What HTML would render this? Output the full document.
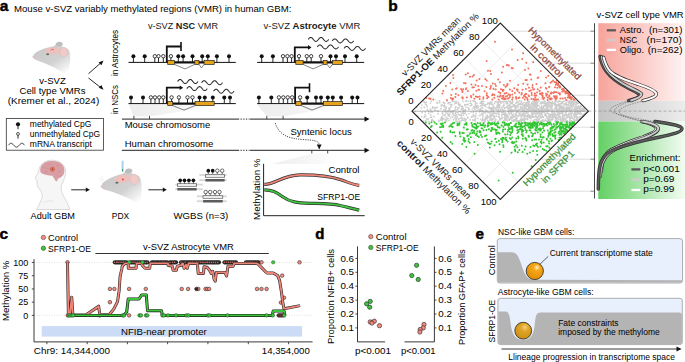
<!DOCTYPE html><html><head><meta charset="utf-8"><style>html,body{margin:0;padding:0;background:#fff;}svg{display:block;}text{font-family:"Liberation Sans",sans-serif;}</style></head><body>
<svg width="685" height="362" viewBox="0 0 685 362">
<defs>
<linearGradient id="gRed" x1="0" x2="1" y1="0" y2="0"><stop offset="0" stop-color="#f7a39b"/><stop offset="1" stop-color="#fff4f3"/></linearGradient>
<linearGradient id="gGray" x1="0" x2="1" y1="0" y2="0"><stop offset="0" stop-color="#c4c4c4"/><stop offset="1" stop-color="#ececec"/></linearGradient>
<linearGradient id="gGreen" x1="0" x2="1" y1="0" y2="0"><stop offset="0" stop-color="#63d063"/><stop offset="1" stop-color="#f3fcf3"/></linearGradient>
<linearGradient id="gZoom" x1="0" x2="1" y1="0" y2="0"><stop offset="0" stop-color="#ebebeb"/><stop offset="0.5" stop-color="#f3f3f3"/><stop offset="1" stop-color="#fefefe"/></linearGradient>
<linearGradient id="gZoomH" x1="0" x2="1" y1="0" y2="0"><stop offset="0" stop-color="#d0d0d0"/><stop offset="1" stop-color="#f8f8f8" stop-opacity="0.3"/></linearGradient>
<radialGradient id="gBall1" cx="0.62" cy="0.3" r="0.75"><stop offset="0" stop-color="#fff2c0"/><stop offset="0.25" stop-color="#f7a81a"/><stop offset="1" stop-color="#e08a00"/></radialGradient>
<radialGradient id="gBall2" cx="0.6" cy="0.3" r="0.75"><stop offset="0" stop-color="#f5d27a"/><stop offset="0.3" stop-color="#e0a62a"/><stop offset="1" stop-color="#c88c10"/></radialGradient>
<radialGradient id="gMouse" cx="0.45" cy="0.35" r="0.7"><stop offset="0" stop-color="#c9c9c9"/><stop offset="0.7" stop-color="#d6d6d6"/><stop offset="1" stop-color="#fff" stop-opacity="0"/></radialGradient>
<linearGradient id="gMouseL" x1="0.2" y1="0.1" x2="0.85" y2="1"><stop offset="0" stop-color="#c8c8c8"/><stop offset="0.55" stop-color="#d2d2d2"/><stop offset="1" stop-color="#ffffff"/></linearGradient>
<g id="mouseHead">
<path d="M0,0 C0.5,-2 2,-3.7 4,-4.7 C8,-7 13,-8.7 18,-9.7 C20.5,-10.3 22,-10.7 22.5,-11.5 C22.5,-13 24,-14.5 26,-14.7 C28.5,-14.9 30,-13.7 29.8,-12.3 C29.6,-11.2 29,-10.5 28.5,-10 C32,-9.5 35,-8 36,-6 C37.5,-3 37.5,1.5 37,6.5 C36.5,11.5 35,15.5 33,18.5 C29,15.5 24,12.5 19,10 C13,7 7,5 3,3.5 C1,2.7 -0.2,1.5 0,0 Z" fill="url(#gMouseL)"/>
<path d="M22.8,-11.6 C23,-13.2 24.5,-14.3 26,-14.4 C28,-14.5 29.4,-13.5 29.3,-12.3 C29.1,-11.2 28,-10.4 26.5,-10.2 C25,-10 23.3,-10.5 22.8,-11.6 Z" fill="#bdbdbd"/>
<path d="M12.5,-6 C14,-8.5 19,-9.5 23,-9.2 C26,-9 27.5,-7.5 27.3,-5.5 C27,-3.5 24,-2.2 20,-2 C16.5,-1.9 13.5,-3 12.5,-4.5 Z" fill="#ecc0bd"/>
<ellipse cx="30.8" cy="-4.2" rx="3.9" ry="4.7" fill="#efcac7" stroke="#e2b2ae" stroke-width="0.4"/>
<ellipse cx="14.7" cy="-2.3" rx="1.5" ry="1" fill="#6a6a6a"/>
<circle cx="0.4" cy="0.3" r="1" fill="#f0b8b8"/>
</g>
</defs>
<text x="-0.30" y="10.80" font-size="15.5" font-weight="bold" fill="#000" stroke="#000" stroke-width="0.45">a</text>
<text x="14.00" y="11.60" font-size="9.0" textLength="277.40" lengthAdjust="spacingAndGlyphs" >Mouse v-SVZ variably methylated regions (VMR) in human GBM:</text>
<text x="147.9" y="29" font-size="8.6" fill="#1a1a1a" textLength="70.1" lengthAdjust="spacingAndGlyphs">v-SVZ <tspan font-weight="bold">NSC</tspan> VMR</text>
<text x="263.5" y="29" font-size="8.6" fill="#1a1a1a" textLength="96.9" lengthAdjust="spacingAndGlyphs">v-SVZ <tspan font-weight="bold">Astrocyte</tspan> VMR</text>
<use href="#mouseHead" transform="translate(33,56.5)"/>
<path d="M50.5,50.2 q1.5,-1.6 3.5,-0.4" stroke="#e0685c" stroke-width="0.9" fill="none"/>
<text x="52.50" y="84.20" font-size="8.6" text-anchor="middle" textLength="26.50" lengthAdjust="spacingAndGlyphs" >v-SVZ</text>
<text x="52.50" y="93.80" font-size="8.6" text-anchor="middle" textLength="66.00" lengthAdjust="spacingAndGlyphs" >Cell type VMRs</text>
<text x="53.50" y="104.40" font-size="8.6" text-anchor="middle" textLength="91.50" lengthAdjust="spacingAndGlyphs" >(Kremer et al., 2024)</text>
<path d="M88.5,73.7 L101.5,62.3" stroke="#111" stroke-width="0.9"/><path d="M103.5,60.6 L98.6,62.4 L101.4,65.2 Z" fill="#111"/>
<path d="M88.5,78 L101.5,88.2" stroke="#111" stroke-width="0.9"/><path d="M103.5,89.8 L98.8,87.7 L101.4,85 Z" fill="#111"/>
<g transform="translate(117.50,53.00) rotate(-90)"><text x="0" y="0" font-size="8.4" text-anchor="middle" textLength="46.00" lengthAdjust="spacingAndGlyphs" >in Astrocytes</text></g>
<g transform="translate(117.50,99.50) rotate(-90)"><text x="0" y="0" font-size="8.4" text-anchor="middle" textLength="29.00" lengthAdjust="spacingAndGlyphs" >in NSCs</text></g>
<path d="M128.5,104.5 L225,104.5 L149.7,116.5 L133.8,116.5 Z" fill="url(#gZoom)" opacity="0.9"/>
<path d="M257,104.5 L350,104.5 L283,116.5 L267,116.5 Z" fill="url(#gZoom)" opacity="0.9"/>
<line x1="128.5" y1="62.4" x2="235.8" y2="62.4" stroke="#111" stroke-width="1"/>
<line x1="133.40" y1="62.40" x2="133.40" y2="56.20" stroke="#111" stroke-width="0.9"/>
<circle cx="133.40" cy="56.20" r="2.0" fill="#111"/>
<line x1="144.70" y1="62.40" x2="144.70" y2="56.20" stroke="#111" stroke-width="0.9"/>
<circle cx="144.70" cy="56.20" r="2.0" fill="#111"/>
<line x1="178.30" y1="62.40" x2="178.30" y2="56.20" stroke="#111" stroke-width="0.9"/>
<circle cx="178.30" cy="56.20" r="2.0" fill="#111"/>
<line x1="183.10" y1="62.40" x2="183.10" y2="56.20" stroke="#111" stroke-width="0.9"/>
<circle cx="183.10" cy="56.20" r="2.0" fill="#111"/>
<line x1="192.50" y1="62.40" x2="192.50" y2="56.20" stroke="#111" stroke-width="0.9"/>
<circle cx="192.50" cy="56.20" r="2.0" fill="#111"/>
<line x1="202.20" y1="62.40" x2="202.20" y2="56.20" stroke="#111" stroke-width="0.9"/>
<circle cx="202.20" cy="56.20" r="2.0" fill="#111"/>
<line x1="207.80" y1="62.40" x2="207.80" y2="56.20" stroke="#111" stroke-width="0.9"/>
<circle cx="207.80" cy="56.20" r="2.0" fill="#111"/>
<line x1="216.90" y1="62.40" x2="216.90" y2="56.20" stroke="#111" stroke-width="0.9"/>
<circle cx="216.90" cy="56.20" r="2.0" fill="#111"/>
<line x1="229.00" y1="62.40" x2="229.00" y2="56.20" stroke="#111" stroke-width="0.9"/>
<circle cx="229.00" cy="56.20" r="2.0" fill="#111"/>
<line x1="154.80" y1="62.40" x2="154.80" y2="56.20" stroke="#111" stroke-width="0.9"/>
<circle cx="154.80" cy="56.20" r="1.7" fill="#fff" stroke="#111" stroke-width="0.8"/>
<line x1="158.50" y1="62.40" x2="158.50" y2="56.20" stroke="#111" stroke-width="0.9"/>
<circle cx="158.50" cy="56.20" r="1.7" fill="#fff" stroke="#111" stroke-width="0.8"/>
<line x1="163.30" y1="62.40" x2="163.30" y2="56.20" stroke="#111" stroke-width="0.9"/>
<circle cx="163.30" cy="56.20" r="1.7" fill="#fff" stroke="#111" stroke-width="0.8"/>
<line x1="170.90" y1="62.40" x2="170.90" y2="56.20" stroke="#111" stroke-width="0.9"/>
<circle cx="170.90" cy="56.20" r="1.7" fill="#fff" stroke="#111" stroke-width="0.8"/>
<line x1="174.4" y1="62.4" x2="194.8" y2="62.4" stroke="#111" stroke-width="2.2"/>
<line x1="199" y1="62.4" x2="204.1" y2="62.4" stroke="#111" stroke-width="2.2"/>
<rect x="167.7" y="60.4" width="6.700000000000017" height="4" fill="#e8a31c" stroke="#222" stroke-width="0.7"/>
<rect x="194.8" y="60.4" width="4.199999999999989" height="4" fill="#e8a31c" stroke="#222" stroke-width="0.7"/>
<rect x="204.1" y="60.4" width="10.099999999999994" height="4" fill="#e8a31c" stroke="#222" stroke-width="0.7"/>
<path d="M174.4,64.4 L185,68.9 L194.8,64.4" fill="none" stroke="#333" stroke-width="0.6"/>
<path d="M199,64.4 L201.5,67.9 L204.1,64.4" fill="#fff" stroke="#333" stroke-width="0.6"/>
<path d="M166.8,62.4 V46.5 H181" fill="none" stroke="#111" stroke-width="1.8"/>
<line x1="181" y1="42.0" x2="181" y2="51.0" stroke="#111" stroke-width="1.6"/>
<line x1="128.5" y1="103.6" x2="235.8" y2="103.6" stroke="#111" stroke-width="1"/>
<line x1="131.00" y1="103.60" x2="131.00" y2="97.40" stroke="#111" stroke-width="0.9"/>
<circle cx="131.00" cy="97.40" r="2.0" fill="#111"/>
<line x1="143.00" y1="103.60" x2="143.00" y2="97.40" stroke="#111" stroke-width="0.9"/>
<circle cx="143.00" cy="97.40" r="2.0" fill="#111"/>
<line x1="199.50" y1="103.60" x2="199.50" y2="97.40" stroke="#111" stroke-width="0.9"/>
<circle cx="199.50" cy="97.40" r="2.0" fill="#111"/>
<line x1="204.80" y1="103.60" x2="204.80" y2="97.40" stroke="#111" stroke-width="0.9"/>
<circle cx="204.80" cy="97.40" r="2.0" fill="#111"/>
<line x1="212.80" y1="103.60" x2="212.80" y2="97.40" stroke="#111" stroke-width="0.9"/>
<circle cx="212.80" cy="97.40" r="2.0" fill="#111"/>
<line x1="224.30" y1="103.60" x2="224.30" y2="97.40" stroke="#111" stroke-width="0.9"/>
<circle cx="224.30" cy="97.40" r="2.0" fill="#111"/>
<line x1="230.00" y1="103.60" x2="230.00" y2="97.40" stroke="#111" stroke-width="0.9"/>
<circle cx="230.00" cy="97.40" r="2.0" fill="#111"/>
<line x1="150.90" y1="103.60" x2="150.90" y2="97.40" stroke="#111" stroke-width="0.9"/>
<circle cx="150.90" cy="97.40" r="1.7" fill="#fff" stroke="#111" stroke-width="0.8"/>
<line x1="155.00" y1="103.60" x2="155.00" y2="97.40" stroke="#111" stroke-width="0.9"/>
<circle cx="155.00" cy="97.40" r="1.7" fill="#fff" stroke="#111" stroke-width="0.8"/>
<line x1="159.20" y1="103.60" x2="159.20" y2="97.40" stroke="#111" stroke-width="0.9"/>
<circle cx="159.20" cy="97.40" r="1.7" fill="#fff" stroke="#111" stroke-width="0.8"/>
<line x1="163.30" y1="103.60" x2="163.30" y2="97.40" stroke="#111" stroke-width="0.9"/>
<circle cx="163.30" cy="97.40" r="1.7" fill="#fff" stroke="#111" stroke-width="0.8"/>
<line x1="171.60" y1="103.60" x2="171.60" y2="97.40" stroke="#111" stroke-width="0.9"/>
<circle cx="171.60" cy="97.40" r="1.7" fill="#fff" stroke="#111" stroke-width="0.8"/>
<line x1="178.90" y1="103.60" x2="178.90" y2="97.40" stroke="#111" stroke-width="0.9"/>
<circle cx="178.90" cy="97.40" r="1.7" fill="#fff" stroke="#111" stroke-width="0.8"/>
<line x1="187.50" y1="103.60" x2="187.50" y2="97.40" stroke="#111" stroke-width="0.9"/>
<circle cx="187.50" cy="97.40" r="1.7" fill="#fff" stroke="#111" stroke-width="0.8"/>
<line x1="192.50" y1="103.60" x2="192.50" y2="97.40" stroke="#111" stroke-width="0.9"/>
<circle cx="192.50" cy="97.40" r="1.7" fill="#fff" stroke="#111" stroke-width="0.8"/>
<line x1="172.7" y1="103.6" x2="195.1" y2="103.6" stroke="#111" stroke-width="2.2"/>
<rect x="167.7" y="101.6" width="5.0" height="4" fill="#e8a31c" stroke="#222" stroke-width="0.7"/>
<rect x="195.1" y="101.6" width="19.099999999999994" height="4" fill="#e8a31c" stroke="#222" stroke-width="0.7"/>
<path d="M172.7,105.6 L184,110.1 L195.1,105.6" fill="none" stroke="#333" stroke-width="0.6"/>
<path d="M166.8,103.6 V87.7 H180.2" fill="none" stroke="#111" stroke-width="1.8"/>
<path d="M179.7,85.4 L183.2,87.7 L179.7,90.0 Z" fill="#111"/>
<path d="M177.50,81.50 L177.84,81.08 L178.18,80.69 L178.53,80.32 L178.87,80.01 L179.21,79.77 L179.55,79.60 L179.89,79.51 L180.23,79.51 L180.57,79.60 L180.92,79.77 L181.26,80.01 L181.60,80.32 L181.94,80.69 L182.28,81.08 L182.62,81.50 L182.97,81.92 L183.31,82.31 L183.65,82.68 L183.99,82.99 L184.33,83.23 L184.68,83.40 L185.02,83.49 L185.36,83.49 L185.70,83.40 L186.04,83.23 L186.38,82.99 L186.72,82.68 L187.07,82.31 L187.41,81.92 L187.75,81.50 L188.09,81.08 L188.43,80.69 L188.78,80.32 L189.12,80.01 L189.46,79.77 L189.80,79.60 L190.14,79.51 L190.48,79.51 L190.82,79.60 L191.17,79.77 L191.51,80.01 L191.85,80.32 L192.19,80.69 L192.53,81.08 L192.88,81.50 L193.22,81.92 L193.56,82.31 L193.90,82.68 L194.24,82.99 L194.58,83.23 L194.93,83.40 L195.27,83.49 L195.61,83.49 L195.95,83.40 L196.29,83.23 L196.63,82.99 L196.97,82.68 L197.32,82.31 L197.66,81.92 L198.00,81.50" fill="none" stroke="#2a2a2a" stroke-width="1.05"/>
<path d="M201.50,82.70 L201.85,82.28 L202.20,81.89 L202.55,81.52 L202.90,81.21 L203.25,80.97 L203.60,80.80 L203.95,80.71 L204.30,80.71 L204.65,80.80 L205.00,80.97 L205.35,81.21 L205.70,81.52 L206.05,81.89 L206.40,82.28 L206.75,82.70 L207.10,83.12 L207.45,83.51 L207.80,83.88 L208.15,84.19 L208.50,84.43 L208.85,84.60 L209.20,84.69 L209.55,84.69 L209.90,84.60 L210.25,84.43 L210.60,84.19 L210.95,83.88 L211.30,83.51 L211.65,83.12 L212.00,82.70 L212.35,82.28 L212.70,81.89 L213.05,81.52 L213.40,81.21 L213.75,80.97 L214.10,80.80 L214.45,80.71 L214.80,80.71 L215.15,80.80 L215.50,80.97 L215.85,81.21 L216.20,81.52 L216.55,81.89 L216.90,82.28 L217.25,82.70 L217.60,83.12 L217.95,83.51 L218.30,83.88 L218.65,84.19 L219.00,84.43 L219.35,84.60 L219.70,84.69 L220.05,84.69 L220.40,84.60 L220.75,84.43 L221.10,84.19 L221.45,83.88 L221.80,83.51 L222.15,83.12 L222.50,82.70" fill="none" stroke="#2a2a2a" stroke-width="1.05"/>
<path d="M186.80,88.60 L187.14,88.18 L187.48,87.79 L187.83,87.42 L188.17,87.11 L188.51,86.87 L188.85,86.70 L189.19,86.61 L189.53,86.61 L189.88,86.70 L190.22,86.87 L190.56,87.11 L190.90,87.42 L191.24,87.79 L191.58,88.18 L191.93,88.60 L192.27,89.02 L192.61,89.41 L192.95,89.78 L193.29,90.09 L193.63,90.33 L193.98,90.50 L194.32,90.59 L194.66,90.59 L195.00,90.50 L195.34,90.33 L195.68,90.09 L196.03,89.78 L196.37,89.41 L196.71,89.02 L197.05,88.60 L197.39,88.18 L197.73,87.79 L198.08,87.42 L198.42,87.11 L198.76,86.87 L199.10,86.70 L199.44,86.61 L199.78,86.61 L200.12,86.70 L200.47,86.87 L200.81,87.11 L201.15,87.42 L201.49,87.79 L201.83,88.18 L202.18,88.60 L202.52,89.02 L202.86,89.41 L203.20,89.78 L203.54,90.09 L203.88,90.33 L204.23,90.50 L204.57,90.59 L204.91,90.59 L205.25,90.50 L205.59,90.33 L205.93,90.09 L206.28,89.78 L206.62,89.41 L206.96,89.02 L207.30,88.60" fill="none" stroke="#2a2a2a" stroke-width="1.05"/>
<path d="M213.50,91.20 L213.84,90.78 L214.18,90.39 L214.53,90.02 L214.87,89.71 L215.21,89.47 L215.55,89.30 L215.89,89.21 L216.23,89.21 L216.57,89.30 L216.92,89.47 L217.26,89.71 L217.60,90.02 L217.94,90.39 L218.28,90.78 L218.62,91.20 L218.97,91.62 L219.31,92.01 L219.65,92.38 L219.99,92.69 L220.33,92.93 L220.68,93.10 L221.02,93.19 L221.36,93.19 L221.70,93.10 L222.04,92.93 L222.38,92.69 L222.72,92.38 L223.07,92.01 L223.41,91.62 L223.75,91.20 L224.09,90.78 L224.43,90.39 L224.78,90.02 L225.12,89.71 L225.46,89.47 L225.80,89.30 L226.14,89.21 L226.48,89.21 L226.82,89.30 L227.17,89.47 L227.51,89.71 L227.85,90.02 L228.19,90.39 L228.53,90.78 L228.88,91.20 L229.22,91.62 L229.56,92.01 L229.90,92.38 L230.24,92.69 L230.58,92.93 L230.93,93.10 L231.27,93.19 L231.61,93.19 L231.95,93.10 L232.29,92.93 L232.63,92.69 L232.97,92.38 L233.32,92.01 L233.66,91.62 L234.00,91.20" fill="none" stroke="#2a2a2a" stroke-width="1.05"/>
<line x1="257.1" y1="62.4" x2="364.2" y2="62.4" stroke="#111" stroke-width="1"/>
<line x1="261.70" y1="62.40" x2="261.70" y2="56.20" stroke="#111" stroke-width="0.9"/>
<circle cx="261.70" cy="56.20" r="2.0" fill="#111"/>
<line x1="272.90" y1="62.40" x2="272.90" y2="56.20" stroke="#111" stroke-width="0.9"/>
<circle cx="272.90" cy="56.20" r="2.0" fill="#111"/>
<line x1="330.50" y1="62.40" x2="330.50" y2="56.20" stroke="#111" stroke-width="0.9"/>
<circle cx="330.50" cy="56.20" r="2.0" fill="#111"/>
<line x1="336.00" y1="62.40" x2="336.00" y2="56.20" stroke="#111" stroke-width="0.9"/>
<circle cx="336.00" cy="56.20" r="2.0" fill="#111"/>
<line x1="345.00" y1="62.40" x2="345.00" y2="56.20" stroke="#111" stroke-width="0.9"/>
<circle cx="345.00" cy="56.20" r="2.0" fill="#111"/>
<line x1="356.70" y1="62.40" x2="356.70" y2="56.20" stroke="#111" stroke-width="0.9"/>
<circle cx="356.70" cy="56.20" r="2.0" fill="#111"/>
<line x1="283.00" y1="62.40" x2="283.00" y2="56.20" stroke="#111" stroke-width="0.9"/>
<circle cx="283.00" cy="56.20" r="1.7" fill="#fff" stroke="#111" stroke-width="0.8"/>
<line x1="287.40" y1="62.40" x2="287.40" y2="56.20" stroke="#111" stroke-width="0.9"/>
<circle cx="287.40" cy="56.20" r="1.7" fill="#fff" stroke="#111" stroke-width="0.8"/>
<line x1="291.60" y1="62.40" x2="291.60" y2="56.20" stroke="#111" stroke-width="0.9"/>
<circle cx="291.60" cy="56.20" r="1.7" fill="#fff" stroke="#111" stroke-width="0.8"/>
<line x1="299.00" y1="62.40" x2="299.00" y2="56.20" stroke="#111" stroke-width="0.9"/>
<circle cx="299.00" cy="56.20" r="1.7" fill="#fff" stroke="#111" stroke-width="0.8"/>
<line x1="306.80" y1="62.40" x2="306.80" y2="56.20" stroke="#111" stroke-width="0.9"/>
<circle cx="306.80" cy="56.20" r="1.7" fill="#fff" stroke="#111" stroke-width="0.8"/>
<line x1="311.20" y1="62.40" x2="311.20" y2="56.20" stroke="#111" stroke-width="0.9"/>
<circle cx="311.20" cy="56.20" r="1.7" fill="#fff" stroke="#111" stroke-width="0.8"/>
<line x1="321.00" y1="62.40" x2="321.00" y2="56.20" stroke="#111" stroke-width="0.9"/>
<circle cx="321.00" cy="56.20" r="1.7" fill="#fff" stroke="#111" stroke-width="0.8"/>
<line x1="303.1" y1="62.4" x2="323.2" y2="62.4" stroke="#111" stroke-width="2.2"/>
<line x1="327.1" y1="62.4" x2="332.4" y2="62.4" stroke="#111" stroke-width="2.2"/>
<rect x="295.8" y="60.4" width="7.300000000000011" height="4" fill="#e8a31c" stroke="#222" stroke-width="0.7"/>
<rect x="323.2" y="60.4" width="3.900000000000034" height="4" fill="#e8a31c" stroke="#222" stroke-width="0.7"/>
<rect x="332.4" y="60.4" width="10.100000000000023" height="4" fill="#e8a31c" stroke="#222" stroke-width="0.7"/>
<path d="M303.1,64.4 L313,68.9 L323.2,64.4" fill="none" stroke="#333" stroke-width="0.6"/>
<path d="M327.1,64.4 L329.8,67.9 L332.4,64.4" fill="#fff" stroke="#333" stroke-width="0.6"/>
<path d="M294.8,62.4 V47.4 H308.5" fill="none" stroke="#111" stroke-width="1.8"/>
<path d="M308,45.1 L311.5,47.4 L308,49.699999999999996 Z" fill="#111"/>
<path d="M308.20,39.40 L308.54,38.98 L308.88,38.59 L309.22,38.22 L309.57,37.91 L309.91,37.67 L310.25,37.50 L310.59,37.41 L310.93,37.41 L311.27,37.50 L311.62,37.67 L311.96,37.91 L312.30,38.22 L312.64,38.59 L312.98,38.98 L313.32,39.40 L313.67,39.82 L314.01,40.21 L314.35,40.58 L314.69,40.89 L315.03,41.13 L315.38,41.30 L315.72,41.39 L316.06,41.39 L316.40,41.30 L316.74,41.13 L317.08,40.89 L317.43,40.58 L317.77,40.21 L318.11,39.82 L318.45,39.40 L318.79,38.98 L319.13,38.59 L319.47,38.22 L319.82,37.91 L320.16,37.67 L320.50,37.50 L320.84,37.41 L321.18,37.41 L321.52,37.50 L321.87,37.67 L322.21,37.91 L322.55,38.22 L322.89,38.59 L323.23,38.98 L323.57,39.40 L323.92,39.82 L324.26,40.21 L324.60,40.58 L324.94,40.89 L325.28,41.13 L325.62,41.30 L325.97,41.39 L326.31,41.39 L326.65,41.30 L326.99,41.13 L327.33,40.89 L327.68,40.58 L328.02,40.21 L328.36,39.82 L328.70,39.40" fill="none" stroke="#2a2a2a" stroke-width="1.05"/>
<path d="M332.10,40.90 L332.46,40.48 L332.82,40.09 L333.18,39.72 L333.53,39.41 L333.89,39.17 L334.25,39.00 L334.61,38.91 L334.97,38.91 L335.33,39.00 L335.68,39.17 L336.04,39.41 L336.40,39.72 L336.76,40.09 L337.12,40.48 L337.48,40.90 L337.83,41.32 L338.19,41.71 L338.55,42.08 L338.91,42.39 L339.27,42.63 L339.62,42.80 L339.98,42.89 L340.34,42.89 L340.70,42.80 L341.06,42.63 L341.42,42.39 L341.78,42.08 L342.13,41.71 L342.49,41.32 L342.85,40.90 L343.21,40.48 L343.57,40.09 L343.93,39.72 L344.28,39.41 L344.64,39.17 L345.00,39.00 L345.36,38.91 L345.72,38.91 L346.08,39.00 L346.43,39.17 L346.79,39.41 L347.15,39.72 L347.51,40.09 L347.87,40.48 L348.23,40.90 L348.58,41.32 L348.94,41.71 L349.30,42.08 L349.66,42.39 L350.02,42.63 L350.38,42.80 L350.73,42.89 L351.09,42.89 L351.45,42.80 L351.81,42.63 L352.17,42.39 L352.53,42.08 L352.88,41.71 L353.24,41.32 L353.60,40.90" fill="none" stroke="#2a2a2a" stroke-width="1.05"/>
<path d="M317.20,46.90 L317.56,46.48 L317.91,46.09 L318.26,45.72 L318.62,45.41 L318.97,45.17 L319.33,45.00 L319.69,44.91 L320.04,44.91 L320.39,45.00 L320.75,45.17 L321.10,45.41 L321.46,45.72 L321.81,46.09 L322.17,46.48 L322.52,46.90 L322.88,47.32 L323.24,47.71 L323.59,48.08 L323.94,48.39 L324.30,48.63 L324.65,48.80 L325.01,48.89 L325.37,48.89 L325.72,48.80 L326.07,48.63 L326.43,48.39 L326.78,48.08 L327.14,47.71 L327.50,47.32 L327.85,46.90 L328.20,46.48 L328.56,46.09 L328.91,45.72 L329.27,45.41 L329.62,45.17 L329.98,45.00 L330.33,44.91 L330.69,44.91 L331.05,45.00 L331.40,45.17 L331.75,45.41 L332.11,45.72 L332.46,46.09 L332.82,46.48 L333.18,46.90 L333.53,47.32 L333.88,47.71 L334.24,48.08 L334.59,48.39 L334.95,48.63 L335.31,48.80 L335.66,48.89 L336.01,48.89 L336.37,48.80 L336.72,48.63 L337.08,48.39 L337.44,48.08 L337.79,47.71 L338.14,47.32 L338.50,46.90" fill="none" stroke="#2a2a2a" stroke-width="1.05"/>
<path d="M344.00,48.40 L344.36,47.98 L344.72,47.59 L345.07,47.22 L345.43,46.91 L345.79,46.67 L346.15,46.50 L346.51,46.41 L346.87,46.41 L347.23,46.50 L347.58,46.67 L347.94,46.91 L348.30,47.22 L348.66,47.59 L349.02,47.98 L349.38,48.40 L349.73,48.82 L350.09,49.21 L350.45,49.58 L350.81,49.89 L351.17,50.13 L351.52,50.30 L351.88,50.39 L352.24,50.39 L352.60,50.30 L352.96,50.13 L353.32,49.89 L353.68,49.58 L354.03,49.21 L354.39,48.82 L354.75,48.40 L355.11,47.98 L355.47,47.59 L355.82,47.22 L356.18,46.91 L356.54,46.67 L356.90,46.50 L357.26,46.41 L357.62,46.41 L357.98,46.50 L358.33,46.67 L358.69,46.91 L359.05,47.22 L359.41,47.59 L359.77,47.98 L360.12,48.40 L360.48,48.82 L360.84,49.21 L361.20,49.58 L361.56,49.89 L361.92,50.13 L362.27,50.30 L362.63,50.39 L362.99,50.39 L363.35,50.30 L363.71,50.13 L364.07,49.89 L364.43,49.58 L364.78,49.21 L365.14,48.82 L365.50,48.40" fill="none" stroke="#2a2a2a" stroke-width="1.05"/>
<line x1="257.1" y1="103.6" x2="364.2" y2="103.6" stroke="#111" stroke-width="1"/>
<line x1="258.90" y1="103.60" x2="258.90" y2="97.40" stroke="#111" stroke-width="0.9"/>
<circle cx="258.90" cy="97.40" r="2.0" fill="#111"/>
<line x1="271.30" y1="103.60" x2="271.30" y2="97.40" stroke="#111" stroke-width="0.9"/>
<circle cx="271.30" cy="97.40" r="2.0" fill="#111"/>
<line x1="307.20" y1="103.60" x2="307.20" y2="97.40" stroke="#111" stroke-width="0.9"/>
<circle cx="307.20" cy="97.40" r="2.0" fill="#111"/>
<line x1="316.00" y1="103.60" x2="316.00" y2="97.40" stroke="#111" stroke-width="0.9"/>
<circle cx="316.00" cy="97.40" r="2.0" fill="#111"/>
<line x1="321.00" y1="103.60" x2="321.00" y2="97.40" stroke="#111" stroke-width="0.9"/>
<circle cx="321.00" cy="97.40" r="2.0" fill="#111"/>
<line x1="327.80" y1="103.60" x2="327.80" y2="97.40" stroke="#111" stroke-width="0.9"/>
<circle cx="327.80" cy="97.40" r="2.0" fill="#111"/>
<line x1="332.80" y1="103.60" x2="332.80" y2="97.40" stroke="#111" stroke-width="0.9"/>
<circle cx="332.80" cy="97.40" r="2.0" fill="#111"/>
<line x1="341.10" y1="103.60" x2="341.10" y2="97.40" stroke="#111" stroke-width="0.9"/>
<circle cx="341.10" cy="97.40" r="2.0" fill="#111"/>
<line x1="352.20" y1="103.60" x2="352.20" y2="97.40" stroke="#111" stroke-width="0.9"/>
<circle cx="352.20" cy="97.40" r="2.0" fill="#111"/>
<line x1="357.50" y1="103.60" x2="357.50" y2="97.40" stroke="#111" stroke-width="0.9"/>
<circle cx="357.50" cy="97.40" r="2.0" fill="#111"/>
<line x1="278.90" y1="103.60" x2="278.90" y2="97.40" stroke="#111" stroke-width="0.9"/>
<circle cx="278.90" cy="97.40" r="1.7" fill="#fff" stroke="#111" stroke-width="0.8"/>
<line x1="283.30" y1="103.60" x2="283.30" y2="97.40" stroke="#111" stroke-width="0.9"/>
<circle cx="283.30" cy="97.40" r="1.7" fill="#fff" stroke="#111" stroke-width="0.8"/>
<line x1="287.70" y1="103.60" x2="287.70" y2="97.40" stroke="#111" stroke-width="0.9"/>
<circle cx="287.70" cy="97.40" r="1.7" fill="#fff" stroke="#111" stroke-width="0.8"/>
<line x1="292.10" y1="103.60" x2="292.10" y2="97.40" stroke="#111" stroke-width="0.9"/>
<circle cx="292.10" cy="97.40" r="1.7" fill="#fff" stroke="#111" stroke-width="0.8"/>
<line x1="300.10" y1="103.60" x2="300.10" y2="97.40" stroke="#111" stroke-width="0.9"/>
<circle cx="300.10" cy="97.40" r="1.7" fill="#fff" stroke="#111" stroke-width="0.8"/>
<line x1="301.3" y1="103.6" x2="323.4" y2="103.6" stroke="#111" stroke-width="2.2"/>
<rect x="295.8" y="101.6" width="5.5" height="4" fill="#e8a31c" stroke="#222" stroke-width="0.7"/>
<rect x="323.4" y="101.6" width="19.100000000000023" height="4" fill="#e8a31c" stroke="#222" stroke-width="0.7"/>
<path d="M301.3,105.6 L312,110.1 L323.4,105.6" fill="none" stroke="#333" stroke-width="0.6"/>
<path d="M295.1,103.6 V87.7 H309.5" fill="none" stroke="#111" stroke-width="1.8"/>
<line x1="309.5" y1="83.2" x2="309.5" y2="92.2" stroke="#111" stroke-width="1.6"/>
<line x1="121.9" y1="119.1" x2="239.2" y2="119.1" stroke="#222" stroke-width="1"/>
<line x1="240.5" y1="119.1" x2="249" y2="119.1" stroke="#222" stroke-width="1" stroke-dasharray="1.3,1.4"/>
<line x1="249.5" y1="119.1" x2="366" y2="119.1" stroke="#222" stroke-width="1"/>
<path d="M369.5,119.1 L364.5,116.5 L364.5,121.69999999999999 Z" fill="#111"/>
<line x1="133.9" y1="119.1" x2="133.9" y2="115.89999999999999" stroke="#222" stroke-width="0.8"/>
<line x1="149.5" y1="119.1" x2="149.5" y2="115.89999999999999" stroke="#222" stroke-width="0.8"/>
<line x1="266.8" y1="119.1" x2="266.8" y2="115.89999999999999" stroke="#222" stroke-width="0.8"/>
<line x1="283.1" y1="119.1" x2="283.1" y2="115.89999999999999" stroke="#222" stroke-width="0.8"/>
<line x1="121.9" y1="150.3" x2="239.2" y2="150.3" stroke="#222" stroke-width="1"/>
<line x1="240.5" y1="150.3" x2="249" y2="150.3" stroke="#222" stroke-width="1" stroke-dasharray="1.3,1.4"/>
<line x1="249.5" y1="150.3" x2="366" y2="150.3" stroke="#222" stroke-width="1"/>
<path d="M369.5,150.3 L364.5,147.70000000000002 L364.5,152.9 Z" fill="#111"/>
<line x1="311.8" y1="150.3" x2="311.8" y2="153.70000000000002" stroke="#222" stroke-width="0.8"/>
<line x1="327.7" y1="150.3" x2="327.7" y2="153.70000000000002" stroke="#222" stroke-width="0.8"/>
<text x="124.70" y="128.20" font-size="8.6" textLength="85.50" lengthAdjust="spacingAndGlyphs" >Mouse chromosome</text>
<text x="124.70" y="146.80" font-size="8.6" textLength="88.60" lengthAdjust="spacingAndGlyphs" >Human chromosome</text>
<text x="290.50" y="134.80" font-size="8.6" textLength="61.30" lengthAdjust="spacingAndGlyphs" >Syntenic locus</text>
<path d="M275.3,123 C279,135 288,138.5 303,139.5 C313,140.2 318.5,140.5 319.2,144.5" fill="none" stroke="#222" stroke-width="0.8" stroke-dasharray="1.2,1.1"/>
<path d="M319.2,149.4 L316.8,144.4 L321.6,144.4 Z" fill="#111"/>
<rect x="6.3" y="118.5" width="97.1" height="31.7" fill="#fff" stroke="#333" stroke-width="0.8"/>
<line x1="18" y1="124.3" x2="18" y2="129.2" stroke="#111" stroke-width="0.9"/><circle cx="18" cy="124.3" r="2.05" fill="#111"/>
<line x1="18" y1="134" x2="18" y2="138.6" stroke="#111" stroke-width="0.9"/><circle cx="18" cy="133.9" r="1.45" fill="#fff" stroke="#111" stroke-width="0.7"/>
<path d="M8.30,145.20 L8.57,144.90 L8.85,144.61 L9.12,144.34 L9.39,144.08 L9.67,143.86 L9.94,143.66 L10.21,143.51 L10.49,143.39 L10.76,143.32 L11.03,143.30 L11.31,143.32 L11.58,143.39 L11.85,143.51 L12.13,143.66 L12.40,143.86 L12.67,144.08 L12.95,144.34 L13.22,144.61 L13.49,144.90 L13.77,145.20 L14.04,145.50 L14.31,145.79 L14.59,146.06 L14.86,146.32 L15.13,146.54 L15.41,146.74 L15.68,146.89 L15.95,147.01 L16.23,147.08 L16.50,147.10 L16.77,147.08 L17.05,147.01 L17.32,146.89 L17.59,146.74 L17.87,146.54 L18.14,146.32 L18.41,146.06 L18.69,145.79 L18.96,145.50 L19.23,145.20 L19.51,144.90 L19.78,144.61 L20.05,144.34 L20.33,144.08 L20.60,143.86 L20.87,143.66 L21.15,143.51 L21.42,143.39 L21.69,143.32 L21.97,143.30 L22.24,143.32 L22.51,143.39 L22.79,143.51 L23.06,143.66 L23.33,143.86 L23.61,144.08 L23.88,144.34 L24.15,144.61 L24.43,144.90 L24.70,145.20" fill="none" stroke="#2a2a2a" stroke-width="1.0"/>
<text x="29.80" y="127.20" font-size="8.5" textLength="61.50" lengthAdjust="spacingAndGlyphs" >methylated CpG</text>
<text x="29.80" y="137.20" font-size="8.5" textLength="70.30" lengthAdjust="spacingAndGlyphs" >unmethylated CpG</text>
<text x="29.80" y="147.10" font-size="8.5" textLength="62.00" lengthAdjust="spacingAndGlyphs" >mRNA transcript</text>
<g>
<path d="M51.3,160.2 C45,160.5 40.5,164 39.2,168.6 C38.6,170.5 38.3,172 37.8,173.9 C36.5,175.5 35.2,177 35.4,178 C35.6,179 36.4,179.6 36.8,180.2 C36.5,181 37.3,181.5 37,182.3 C36.8,183.2 37.6,183.8 37.4,184.8 C37.3,186.2 38,187.8 39.2,188.9 C40.8,190.2 42,192.5 42.2,195.5 C42.2,199 40,203 36.5,209.5 L69.8,209.5 C68.5,204 65,199 62.5,194 C61,190.5 60.8,187.5 61.8,184.5 C64,180 66,175.5 65.6,170.5 C65.2,164.5 59,160 51.3,160.2 Z" fill="#f6f6f6" stroke="#c4c4c4" stroke-width="0.6"/>
<path d="M40.2,169.6 C40.5,166.5 41.5,165 42.6,164.3 C45,162 48,161 51.3,161.1 C55,161 58,161.6 60,162.8 C63,164.5 64.6,167.5 64.4,170.5 C64.3,173 63.8,174.5 62.9,175.4 C61.5,177 59.5,178 58,178.5 L57.1,181.2 C56.2,181.5 55.5,181 55.2,180.2 C54,178.3 53,176.8 52.3,175.8 C50,175.5 48,175.2 46.5,174.9 C44,174.5 41.5,173.5 40.7,172.5 C40.2,171.5 40.1,170.5 40.2,169.6 Z" fill="#d99ea4"/>
<path d="M42,168 q2,-2 4,0 t4,0 M44,172 q2,-1.5 4,0 M56,165 q2,1.5 4,0 M57,172 q2,-1.5 4,0 M47,164 q2,1.2 4,0 M58,176 q1.5,1 3,-0.5" stroke="#c2848b" stroke-width="0.45" fill="none"/>
<circle cx="52.5" cy="169.2" r="2.2" fill="#e8805e" stroke="#c9504a" stroke-width="0.5"/>
<circle cx="52.5" cy="169.2" r="0.9" fill="#9a4a4a"/>
<path d="M43,203 C46,201 50,200.5 53,201" stroke="#d0d0d0" stroke-width="0.4" fill="none"/>
</g>
<line x1="71.2" y1="189.8" x2="87" y2="189.8" stroke="#111" stroke-width="0.9"/><path d="M89.8,189.8 L85.8,187.6 L85.8,192 Z" fill="#111"/>
<line x1="148.4" y1="189.8" x2="164" y2="189.8" stroke="#111" stroke-width="0.9"/><path d="M166.8,189.8 L162.8,187.6 L162.8,192 Z" fill="#111"/>
<use href="#mouseHead" transform="translate(101.3,186.3) rotate(-4) scale(1.08)"/>
<circle cx="122.9" cy="179.4" r="0.9" fill="#e33"/>
<rect x="121.6" y="160.8" width="2" height="8.3" fill="#a9d2ef"/>
<rect x="121.9" y="169" width="1.4" height="2.6" fill="#3a9a8a"/>
<path d="M100,177 l2.5,4.5 M101.5,175.5 l2,5.5 M98.5,179.5 l3.5,3" stroke="#dcdcdc" stroke-width="0.4"/>
<text x="52.80" y="218.80" font-size="8.6" text-anchor="middle" textLength="44.40" lengthAdjust="spacingAndGlyphs" >Adult GBM</text>
<text x="120.50" y="218.80" font-size="8.6" text-anchor="middle" textLength="17.40" lengthAdjust="spacingAndGlyphs" >PDX</text>
<text x="200.90" y="218.80" font-size="8.6" text-anchor="middle" textLength="54.70" lengthAdjust="spacingAndGlyphs" >WGBS (n=3)</text>
<rect x="175.3" y="183.7" width="27.399999999999977" height="1.8" fill="#d7d7d7"/>
<rect x="177.3" y="183.8" width="19.399999999999977" height="2.4" fill="#fff" stroke="#333" stroke-width="0.6"/>
<rect x="175.3" y="188.3" width="27.399999999999977" height="1.8" fill="#d7d7d7"/>
<rect x="177.3" y="188" width="19.399999999999977" height="2.4" rx="0.4" fill="#5c5c5c"/>
<line x1="180.2" y1="183.6" x2="180.2" y2="180.6" stroke="#111" stroke-width="0.6"/>
<circle cx="180.2" cy="180.29999999999998" r="1.85" fill="#111"/>
<line x1="184.5" y1="183.6" x2="184.5" y2="180.6" stroke="#111" stroke-width="0.6"/>
<circle cx="184.5" cy="180.29999999999998" r="1.85" fill="#111"/>
<line x1="188.9" y1="183.6" x2="188.9" y2="180.6" stroke="#111" stroke-width="0.6"/>
<circle cx="188.9" cy="180.29999999999998" r="1.85" fill="#111"/>
<line x1="193.4" y1="183.6" x2="193.4" y2="180.6" stroke="#111" stroke-width="0.6"/>
<circle cx="193.4" cy="180.29999999999998" r="1.85" fill="#111"/>
<rect x="199.4" y="174.1" width="27.299999999999983" height="1.8" fill="#d7d7d7"/>
<rect x="205.4" y="174.8" width="19.299999999999983" height="2.4" fill="#fff" stroke="#333" stroke-width="0.6"/>
<rect x="199.4" y="179.3" width="27.299999999999983" height="1.8" fill="#d7d7d7"/>
<rect x="205.4" y="179" width="19.299999999999983" height="2.4" rx="0.4" fill="#5c5c5c"/>
<line x1="208.3" y1="174.0" x2="208.3" y2="171.0" stroke="#111" stroke-width="0.6"/>
<circle cx="208.3" cy="170.7" r="1.85" fill="#111"/>
<line x1="212.7" y1="174.0" x2="212.7" y2="171.0" stroke="#111" stroke-width="0.6"/>
<circle cx="212.7" cy="170.7" r="1.85" fill="#111"/>
<line x1="217.3" y1="174.0" x2="217.3" y2="171.0" stroke="#111" stroke-width="0.6"/>
<circle cx="217.3" cy="170.7" r="1.75" fill="#fff" stroke="#111" stroke-width="0.6"/>
<line x1="222.2" y1="174.0" x2="222.2" y2="171.0" stroke="#111" stroke-width="0.6"/>
<circle cx="222.2" cy="170.7" r="1.75" fill="#fff" stroke="#111" stroke-width="0.6"/>
<rect x="197.0" y="195.4" width="29.80000000000001" height="1.8" fill="#d7d7d7"/>
<rect x="203.0" y="195.8" width="19.80000000000001" height="2.4" fill="#fff" stroke="#333" stroke-width="0.6"/>
<rect x="197.0" y="200.3" width="29.80000000000001" height="1.8" fill="#d7d7d7"/>
<rect x="203.0" y="200" width="19.80000000000001" height="2.4" rx="0.4" fill="#5c5c5c"/>
<line x1="205.7" y1="195.3" x2="205.7" y2="192.3" stroke="#111" stroke-width="0.6"/>
<circle cx="205.7" cy="192.0" r="1.75" fill="#fff" stroke="#111" stroke-width="0.6"/>
<line x1="210.2" y1="195.3" x2="210.2" y2="192.3" stroke="#111" stroke-width="0.6"/>
<circle cx="210.2" cy="192.0" r="1.75" fill="#fff" stroke="#111" stroke-width="0.6"/>
<line x1="215.0" y1="195.3" x2="215.0" y2="192.3" stroke="#111" stroke-width="0.6"/>
<circle cx="215.0" cy="192.0" r="1.75" fill="#fff" stroke="#111" stroke-width="0.6"/>
<line x1="219.5" y1="195.3" x2="219.5" y2="192.3" stroke="#111" stroke-width="0.6"/>
<circle cx="219.5" cy="192.0" r="1.75" fill="#fff" stroke="#111" stroke-width="0.6"/>
<path d="M311.8,153.6 L327.7,153.6 L337,164 L272,164 Z" fill="url(#gZoom)" opacity="0.8"/>
<path d="M263.6,163.8 V215.7 H364.7" fill="none" stroke="#222" stroke-width="1"/>
<g transform="translate(260.40,189.20) rotate(-90)"><text x="0" y="0" font-size="8.8" text-anchor="middle" textLength="61.50" lengthAdjust="spacingAndGlyphs" >Methylation %</text></g>
<path d="M264.3,184.3 C275,185 282,175 300,174.8 C320,174.6 330,176 340,179.5 C348,182 353,185 359.2,185.3" fill="none" stroke="#333" stroke-width="3.2"/><path d="M264.3,184.3 C275,185 282,175 300,174.8 C320,174.6 330,176 340,179.5 C348,182 353,185 359.2,185.3" fill="none" stroke="#f08577" stroke-width="1.8"/>
<path d="M264.3,189.8 C272,190 276,192 283,197 C290,202 297,203 310,203.3 C322,203.6 332,203.5 340,205.5 C348,207.3 352,208.5 359.2,210.1" fill="none" stroke="#333" stroke-width="3.2"/><path d="M264.3,189.8 C272,190 276,192 283,197 C290,202 297,203 310,203.3 C322,203.6 332,203.5 340,205.5 C348,207.3 352,208.5 359.2,210.1" fill="none" stroke="#3cc23c" stroke-width="1.8"/>
<text x="359.50" y="172.60" font-size="8.6" text-anchor="end" textLength="31.00" lengthAdjust="spacingAndGlyphs" >Control</text>
<text x="360.30" y="200.20" font-size="8.6" text-anchor="end" textLength="43.00" lengthAdjust="spacingAndGlyphs" >SFRP1-OE</text>
<text x="388.30" y="10.50" font-size="15.5" font-weight="bold" fill="#000" stroke="#000" stroke-width="0.45">b</text>
<line x1="508.40" y1="31.20" x2="594.5" y2="31.20" stroke="#c8c8c8" stroke-width="0.6"/>
<line x1="590.5" y1="31.20" x2="594.5" y2="31.20" stroke="#555" stroke-width="0.6"/>
<line x1="540.40" y1="63.20" x2="594.5" y2="63.20" stroke="#c8c8c8" stroke-width="0.6"/>
<line x1="590.5" y1="63.20" x2="594.5" y2="63.20" stroke="#555" stroke-width="0.6"/>
<line x1="572.40" y1="95.20" x2="594.5" y2="95.20" stroke="#c8c8c8" stroke-width="0.6"/>
<line x1="590.5" y1="95.20" x2="594.5" y2="95.20" stroke="#555" stroke-width="0.6"/>
<line x1="572.40" y1="127.20" x2="594.5" y2="127.20" stroke="#c8c8c8" stroke-width="0.6"/>
<line x1="590.5" y1="127.20" x2="594.5" y2="127.20" stroke="#555" stroke-width="0.6"/>
<line x1="540.40" y1="159.20" x2="594.5" y2="159.20" stroke="#c8c8c8" stroke-width="0.6"/>
<line x1="590.5" y1="159.20" x2="594.5" y2="159.20" stroke="#555" stroke-width="0.6"/>
<line x1="508.40" y1="191.20" x2="594.5" y2="191.20" stroke="#c8c8c8" stroke-width="0.6"/>
<line x1="590.5" y1="191.20" x2="594.5" y2="191.20" stroke="#555" stroke-width="0.6"/>
<line x1="429.64" y1="93.56" x2="517.84" y2="181.76" stroke="#dedede" stroke-width="0.6"/>
<line x1="429.64" y1="128.84" x2="517.84" y2="40.64" stroke="#dedede" stroke-width="0.6"/>
<line x1="447.28" y1="75.92" x2="535.48" y2="164.12" stroke="#dedede" stroke-width="0.6"/>
<line x1="447.28" y1="146.48" x2="535.48" y2="58.28" stroke="#dedede" stroke-width="0.6"/>
<line x1="464.92" y1="58.28" x2="553.12" y2="146.48" stroke="#dedede" stroke-width="0.6"/>
<line x1="464.92" y1="164.12" x2="553.12" y2="75.92" stroke="#dedede" stroke-width="0.6"/>
<line x1="482.56" y1="40.64" x2="570.76" y2="128.84" stroke="#dedede" stroke-width="0.6"/>
<line x1="482.56" y1="181.76" x2="570.76" y2="93.56" stroke="#dedede" stroke-width="0.6"/>
<path d="M571.4,102.3h0M584.6,111.0h0M516.2,110.9h0M508.9,101.2h0M565.0,118.9h0M516.4,118.5h0M574.7,117.4h0M538.1,121.3h0M484.3,120.9h0M515.7,115.2h0M487.6,111.9h0M524.1,121.0h0M445.5,119.7h0M493.9,117.1h0M490.0,112.5h0M552.9,116.5h0M542.9,110.2h0M576.8,108.6h0M503.6,120.9h0M532.3,114.2h0M575.4,120.0h0M489.5,108.3h0M540.8,113.4h0M432.4,119.8h0M499.3,104.8h0M560.6,106.6h0M546.1,116.0h0M456.0,118.7h0M571.8,116.6h0M579.0,113.0h0M542.9,119.6h0M536.8,105.3h0M558.5,114.5h0M533.9,106.1h0M524.3,110.1h0M536.5,104.9h0M538.0,119.7h0M581.6,108.8h0M540.2,103.7h0M566.7,120.7h0M506.6,119.1h0M542.4,116.3h0M547.2,112.5h0M537.3,114.1h0M569.6,102.6h0M545.3,114.0h0M528.6,102.6h0M577.2,113.8h0M570.1,111.2h0M492.5,119.0h0M526.2,102.6h0M553.1,111.7h0M548.8,116.5h0M509.6,107.9h0M526.4,113.0h0M503.5,114.6h0M565.6,121.6h0M572.2,108.6h0M562.8,117.1h0M543.6,102.0h0M573.8,118.9h0M567.7,110.9h0M424.5,107.5h0M514.7,121.0h0M481.0,109.4h0M542.5,116.9h0M461.5,116.0h0M534.9,105.1h0M525.6,103.0h0M486.3,118.8h0M534.7,109.6h0M554.6,104.0h0M552.4,119.7h0M533.6,108.8h0M485.5,117.7h0M490.3,114.8h0M552.6,116.2h0M431.3,101.2h0M575.9,106.6h0M543.9,111.7h0M458.6,104.6h0M570.4,101.5h0M487.6,118.5h0M549.5,106.1h0M479.6,110.5h0M570.4,109.6h0M548.4,120.4h0M523.8,106.5h0M450.5,102.5h0M522.5,111.7h0M555.3,105.2h0M470.5,101.2h0M566.7,107.6h0M518.1,111.0h0M436.7,103.0h0M575.4,108.7h0M427.5,119.5h0M536.7,112.3h0M501.7,115.6h0M490.1,102.3h0M487.2,117.8h0M556.1,101.1h0M556.4,111.2h0M528.9,101.7h0M578.0,108.4h0M540.4,117.4h0M493.9,121.5h0M552.1,114.4h0M516.9,117.6h0M525.9,111.6h0M552.4,118.1h0M550.1,120.2h0M524.4,107.3h0M491.2,109.8h0M558.3,109.1h0M515.3,106.7h0M462.8,112.9h0M540.4,116.2h0M465.5,110.3h0M527.8,119.3h0M512.2,103.4h0M502.4,114.0h0M482.6,119.3h0M564.5,116.0h0M417.8,116.1h0M512.4,109.5h0M532.0,102.6h0M534.0,105.0h0M454.5,110.4h0M512.6,121.0h0M554.4,109.7h0M545.1,109.5h0M472.0,116.5h0M579.4,113.5h0M492.2,113.5h0M461.7,106.2h0M563.6,109.5h0M421.9,105.0h0M519.6,110.2h0M488.1,107.8h0M561.1,108.3h0M560.9,107.7h0M576.3,116.8h0M523.9,108.9h0M457.5,109.4h0M575.2,114.8h0M458.7,119.3h0M541.9,102.0h0M501.0,119.0h0M566.1,110.4h0M571.5,105.2h0M515.2,119.2h0M541.0,116.5h0M555.0,102.5h0M531.5,102.9h0M532.0,112.7h0M569.8,103.4h0M493.8,107.6h0M498.3,112.7h0M571.2,115.4h0M459.5,114.8h0M527.5,118.1h0M528.7,104.8h0M542.8,107.4h0M509.3,114.5h0M577.1,116.9h0M520.7,114.4h0M543.1,121.2h0M456.3,115.2h0M540.4,114.2h0M549.4,106.5h0M490.3,107.6h0M562.2,119.8h0M462.2,119.9h0M526.5,105.6h0M558.9,103.9h0M549.8,106.2h0M433.6,121.3h0M513.3,110.6h0M453.2,112.0h0M465.4,113.2h0M447.9,113.3h0M494.1,108.4h0M511.0,113.6h0M442.4,120.7h0M458.9,118.5h0M426.5,118.8h0M464.8,104.7h0M580.4,106.6h0M510.8,106.5h0M511.9,120.9h0M546.5,121.0h0M523.2,120.2h0M557.3,121.6h0M561.6,108.8h0M507.8,116.7h0M461.2,118.2h0M546.3,103.9h0M495.2,101.9h0M535.8,116.4h0M473.8,101.2h0M444.0,118.7h0M492.1,120.1h0M566.3,102.5h0M432.8,106.8h0M572.0,112.9h0M482.7,108.0h0M490.5,103.9h0M520.5,106.8h0M425.9,120.9h0M453.9,115.3h0M547.1,106.1h0M533.8,112.8h0M515.9,103.3h0M571.3,103.2h0M576.0,107.9h0M484.8,119.7h0M501.7,115.1h0M556.5,108.1h0M556.1,111.7h0M516.3,106.2h0M530.3,107.0h0M484.5,104.8h0M551.6,102.6h0M582.5,110.3h0M478.5,106.0h0M576.8,109.5h0M510.6,117.0h0M525.0,110.4h0M449.5,116.2h0M553.2,117.5h0M519.1,101.3h0M557.3,118.2h0M529.3,101.5h0M516.4,102.7h0M545.2,105.8h0M443.7,102.7h0M423.8,101.2h0M458.3,104.3h0M489.7,112.4h0M532.9,101.0h0M515.4,115.8h0M455.4,102.8h0M547.9,102.6h0M562.0,112.9h0M537.4,106.1h0M504.9,113.4h0M506.1,117.9h0M467.5,117.5h0M483.6,120.0h0M505.2,108.2h0M526.8,119.2h0M574.7,115.0h0M530.6,121.0h0M544.3,121.0h0M572.3,102.1h0M535.8,115.6h0M471.1,112.0h0M475.9,102.5h0M515.3,105.6h0M448.0,103.6h0M539.9,121.4h0M528.7,106.7h0M521.6,109.2h0M571.1,110.8h0M580.2,107.7h0M504.9,119.4h0M518.2,107.1h0M482.8,113.6h0M495.4,108.0h0M564.8,114.5h0M556.5,104.5h0M510.2,109.9h0M542.1,116.4h0M524.7,110.0h0M523.8,119.4h0M575.6,112.8h0M529.0,110.2h0M578.1,119.5h0M509.1,118.8h0M492.7,113.0h0M546.9,121.2h0M510.2,119.3h0M526.1,108.5h0M527.4,118.9h0M539.3,113.3h0M473.5,110.8h0M535.2,109.6h0M516.5,117.6h0M449.0,102.7h0M574.8,112.3h0M558.4,114.0h0M551.4,106.9h0M563.5,109.9h0M523.5,120.1h0M572.5,104.5h0M568.3,114.9h0M444.8,115.7h0M536.3,100.8h0M504.5,108.2h0M570.0,119.6h0M441.2,105.9h0M526.7,112.5h0M512.6,101.2h0M508.6,108.7h0M424.8,102.5h0M561.8,102.9h0M492.6,115.6h0M434.1,121.2h0M568.3,107.3h0M509.1,110.6h0M559.7,109.2h0M442.8,112.2h0M579.0,112.3h0M559.7,109.8h0M532.7,104.6h0M577.9,112.9h0M521.1,101.3h0M498.6,121.3h0M566.2,114.9h0M562.1,102.0h0M580.7,112.1h0M551.8,105.5h0M565.0,118.2h0M520.6,106.8h0M508.5,109.9h0M455.8,121.2h0M478.4,109.7h0M424.8,116.6h0M572.5,102.8h0M536.5,108.8h0M456.5,119.2h0M528.3,114.1h0M492.3,115.7h0M519.0,101.5h0M570.5,109.7h0M559.6,115.4h0M536.4,121.2h0M486.1,116.3h0M518.0,102.7h0M454.1,101.4h0M471.5,117.2h0M493.4,116.0h0M527.3,102.6h0M580.1,116.5h0M574.9,111.7h0M503.9,105.3h0M534.4,109.2h0M541.6,110.9h0M503.2,112.3h0M579.3,113.9h0M519.3,114.8h0M527.0,109.1h0M448.2,114.7h0M567.6,108.6h0M561.1,121.3h0M489.7,116.1h0M446.9,113.1h0M569.6,107.4h0M576.0,111.9h0M583.4,115.2h0M544.7,115.3h0M501.1,103.2h0M495.2,113.4h0M485.6,118.8h0M559.6,110.5h0M580.1,118.6h0M505.9,118.8h0M534.5,101.0h0M581.2,110.1h0M537.3,104.5h0M533.6,117.1h0M449.4,114.7h0M578.7,106.7h0M531.0,110.2h0M447.9,118.4h0M488.6,103.1h0M463.5,115.2h0M507.4,120.4h0M497.9,111.7h0M493.3,112.0h0M471.9,104.8h0M558.9,104.7h0M498.3,111.7h0M545.9,115.8h0M482.3,105.5h0M539.7,118.6h0M491.5,114.4h0M547.5,112.8h0M521.7,116.0h0M473.1,100.8h0M563.2,107.8h0M573.7,110.1h0M461.7,108.9h0M426.7,105.2h0M511.2,102.4h0M499.9,101.0h0M524.7,120.0h0M530.8,118.7h0M531.4,105.2h0M499.5,101.7h0M561.7,112.4h0M577.4,106.8h0M547.9,119.8h0M556.3,118.1h0M544.1,111.9h0M507.4,107.4h0M573.9,109.7h0M525.3,107.9h0M516.3,115.2h0M563.7,106.4h0M576.5,116.5h0M555.7,101.5h0M512.3,116.0h0M529.1,109.6h0M569.0,108.1h0M537.0,101.9h0M518.5,105.1h0M549.4,101.8h0M572.5,104.1h0M446.3,117.5h0M573.8,115.7h0M511.0,118.8h0M555.5,105.4h0M521.2,101.0h0M476.6,110.5h0M562.4,109.5h0M499.9,111.8h0M541.6,105.3h0M543.3,106.5h0M452.1,116.9h0M546.2,110.0h0M446.3,107.0h0M570.0,120.3h0M521.0,120.7h0M506.4,116.1h0M517.0,101.1h0M513.5,121.2h0M546.0,106.1h0M584.8,109.6h0M569.4,114.0h0M550.9,106.7h0M549.2,115.6h0M547.0,108.5h0M562.1,109.6h0M443.4,102.2h0M581.3,116.5h0M537.9,117.7h0M519.5,110.1h0M465.2,120.1h0M531.6,113.9h0M525.4,116.1h0M536.3,119.8h0M531.4,107.9h0M547.1,118.3h0M542.1,106.8h0M550.1,102.3h0M449.7,108.8h0M483.2,114.5h0M575.7,110.8h0M562.2,119.3h0M541.6,110.0h0M546.8,103.3h0M482.2,104.7h0M556.6,106.9h0M476.3,105.8h0M565.4,112.7h0M516.0,114.1h0M541.6,120.5h0M565.3,115.3h0M565.1,115.1h0M480.7,119.3h0M536.6,107.5h0M476.8,107.9h0M422.1,112.4h0M573.6,101.5h0M493.1,105.5h0M557.8,112.1h0M431.6,117.2h0M576.7,103.5h0M421.8,116.5h0M573.0,118.4h0M495.5,119.2h0M509.8,104.6h0M452.6,101.5h0M562.8,121.6h0M560.5,103.5h0M512.9,111.6h0M483.5,105.5h0M517.6,105.1h0M560.4,113.2h0M555.7,108.9h0M546.4,115.6h0M582.8,115.0h0M520.9,103.5h0M485.4,111.6h0M576.9,116.7h0M433.2,120.5h0M558.7,101.4h0M430.3,117.6h0M437.9,111.4h0M581.2,109.5h0M568.4,104.8h0M558.3,121.5h0M548.1,104.7h0M573.8,110.1h0M443.8,109.6h0M539.8,110.7h0M474.9,109.1h0M552.3,103.6h0M445.7,108.7h0M571.9,113.5h0M542.1,102.7h0M553.8,114.9h0M526.4,105.3h0M474.0,120.4h0M537.2,113.4h0M538.4,109.7h0M498.8,105.6h0M539.4,114.0h0M558.2,101.8h0M498.2,110.0h0M507.8,105.9h0M461.9,108.0h0M558.8,119.6h0M546.6,104.8h0M470.1,103.2h0M476.0,113.9h0M485.7,104.5h0M576.5,111.3h0M435.5,110.0h0M541.8,103.2h0M559.7,101.1h0M514.1,105.6h0M532.8,108.8h0M454.9,103.6h0M534.5,116.5h0M578.6,103.1h0M548.5,117.8h0M544.4,106.1h0M444.4,105.5h0M528.0,104.4h0M513.4,104.6h0M452.3,112.2h0M546.2,104.0h0M572.2,101.1h0M475.9,102.7h0M566.8,111.0h0M557.6,117.6h0M506.5,116.8h0M462.6,106.6h0M506.1,101.2h0M474.3,108.3h0M566.6,114.2h0M560.3,118.4h0M489.3,106.5h0M529.7,117.2h0M457.1,112.8h0M497.6,107.3h0M504.9,110.4h0M548.1,104.5h0M443.5,118.7h0M486.1,110.2h0M539.1,101.1h0M554.3,112.1h0M491.5,104.2h0M428.7,121.3h0M533.2,113.0h0M516.1,108.3h0M555.2,107.6h0M487.2,118.6h0M571.4,120.5h0M442.1,104.7h0M577.6,103.6h0M575.1,108.2h0M521.5,118.9h0M487.3,115.3h0M530.1,118.1h0M536.5,110.6h0M502.3,118.3h0M524.3,113.6h0M535.4,101.3h0M533.6,121.1h0M467.8,117.2h0M503.4,102.1h0M441.8,116.5h0M520.6,103.3h0M546.4,103.3h0M437.1,107.3h0M522.2,119.2h0M577.5,112.0h0M497.2,105.2h0M551.0,108.5h0M500.5,110.2h0M455.4,112.7h0M577.3,111.2h0M513.3,121.0h0M416.8,107.3h0M546.7,118.1h0M457.4,121.3h0M553.4,103.0h0M510.8,101.9h0M562.2,117.8h0M532.8,114.0h0M523.1,115.4h0M538.6,108.9h0M576.7,117.5h0M468.8,113.6h0M456.9,117.8h0M567.4,121.2h0M564.0,104.2h0M568.1,115.4h0M570.6,104.5h0M547.7,110.2h0M550.8,119.3h0M566.9,107.4h0M536.2,106.1h0M572.1,109.3h0M490.3,118.7h0M547.7,108.3h0M584.4,110.0h0M446.5,117.3h0M490.6,107.5h0M499.8,118.8h0M523.9,119.7h0M569.2,108.4h0M580.8,111.6h0M518.7,112.7h0M525.5,105.7h0M562.7,115.7h0M442.7,118.0h0M535.2,111.3h0M466.4,114.9h0M576.8,111.1h0M445.2,114.4h0M493.7,112.0h0M465.8,107.4h0M575.0,111.4h0M510.4,102.7h0M553.6,115.6h0M534.8,102.9h0M499.6,104.5h0M518.3,115.9h0M426.4,102.3h0M430.2,109.2h0M528.3,111.9h0M504.3,101.2h0M571.0,114.1h0M491.1,114.9h0M559.5,113.2h0M499.6,107.3h0M571.7,109.9h0M481.1,103.5h0M545.1,110.7h0M578.8,105.9h0M451.8,104.7h0M564.5,108.3h0M562.3,113.8h0M504.6,114.2h0M576.6,102.4h0M495.9,119.7h0M535.9,105.6h0M520.3,116.4h0M556.9,105.2h0M524.1,117.8h0M533.5,106.7h0M478.0,107.6h0M436.2,107.7h0M518.3,109.7h0M544.4,103.5h0M507.8,108.6h0M530.2,115.7h0M497.9,104.4h0M511.6,107.1h0M507.1,102.5h0M459.6,106.1h0M536.0,103.2h0M569.7,100.9h0M582.6,108.0h0M571.0,121.1h0M452.1,111.9h0M569.3,117.8h0M544.1,108.6h0M464.3,110.8h0M567.6,100.8h0M431.0,112.1h0M564.2,109.0h0M504.2,117.3h0M479.9,115.7h0M479.3,111.8h0M572.3,117.5h0M458.3,102.3h0M542.8,103.0h0M428.8,111.1h0M455.9,106.6h0M524.1,102.5h0M575.8,120.4h0M510.4,117.0h0M570.6,121.4h0M486.7,110.5h0M525.3,114.3h0M513.6,113.8h0M492.1,115.5h0M507.3,115.5h0M562.5,103.3h0M537.0,106.4h0M541.0,103.3h0M559.2,106.7h0M536.8,102.7h0M489.7,104.1h0M523.1,111.8h0M536.8,112.3h0M441.5,117.9h0M515.3,108.8h0M544.8,120.7h0M445.5,111.4h0M435.4,108.1h0M548.3,102.6h0M433.9,107.7h0M520.3,108.0h0M571.1,117.0h0M526.7,113.2h0M491.2,118.8h0M554.0,117.0h0M567.8,115.9h0M565.2,120.9h0M512.8,116.4h0M520.8,120.2h0M480.3,108.9h0M566.2,110.7h0M434.0,116.7h0M548.4,120.1h0M441.1,108.7h0M468.5,101.1h0M550.3,106.8h0M542.0,103.1h0M541.0,109.1h0M520.7,119.4h0M493.2,107.2h0M457.9,108.1h0M535.2,113.7h0M480.4,102.3h0M458.1,112.5h0M559.4,101.2h0M567.6,117.3h0M462.4,118.3h0M568.5,108.5h0M459.4,121.2h0M536.0,106.2h0M521.4,121.3h0M566.2,104.1h0M562.7,110.8h0M448.6,103.2h0M540.1,112.2h0M565.6,119.3h0M499.2,106.2h0M466.3,101.2h0M547.9,109.2h0M448.2,110.8h0M551.0,108.8h0M517.4,111.7h0M503.4,110.6h0M526.8,109.7h0M514.6,106.8h0M563.1,108.3h0M580.1,109.0h0M456.2,121.3h0M431.3,110.6h0M555.7,105.6h0M534.2,112.4h0M536.1,111.8h0M578.7,106.2h0M530.2,116.3h0M512.7,106.4h0M554.2,115.6h0M455.1,107.8h0M576.9,120.3h0M459.0,107.8h0M503.0,110.2h0M528.9,103.9h0M567.0,115.6h0M566.4,111.9h0M569.4,102.8h0M468.9,109.4h0M579.9,110.9h0M564.9,108.9h0M521.2,120.4h0M531.9,108.3h0M441.2,118.7h0M555.0,114.0h0M542.0,114.6h0M438.8,120.8h0M552.6,111.3h0M510.7,107.9h0M512.3,110.5h0M520.0,121.3h0M555.6,104.2h0M576.2,104.7h0M537.9,112.7h0M557.2,105.0h0M542.3,109.1h0M524.3,108.5h0M581.2,108.8h0M449.0,120.3h0M527.8,111.4h0M532.2,107.3h0M561.3,101.8h0M563.5,101.7h0M516.9,121.2h0M485.6,112.6h0M559.2,108.8h0M550.9,115.6h0M527.4,117.5h0M509.3,113.6h0M555.0,116.9h0M470.4,105.7h0M508.6,112.8h0M556.5,114.8h0M512.0,102.5h0M557.8,112.2h0M572.2,108.1h0M558.3,106.0h0M498.6,102.0h0M563.2,110.8h0M532.1,110.2h0M574.9,100.9h0M461.7,115.3h0M503.5,105.6h0M541.9,120.9h0M585.1,113.2h0M556.9,109.8h0M529.2,107.4h0M508.7,105.4h0M480.6,106.1h0M552.3,101.6h0M504.7,114.6h0M495.6,121.1h0M541.4,117.4h0M550.0,116.3h0M467.3,104.7h0M488.5,112.5h0M494.2,118.0h0M543.3,117.1h0M537.6,101.9h0M576.2,111.2h0M575.5,111.1h0M483.4,112.1h0M577.9,108.2h0M485.2,119.2h0M508.9,111.1h0M491.1,119.4h0M571.1,110.2h0M562.6,113.2h0M528.8,111.6h0M576.4,111.2h0M425.7,116.2h0M541.0,120.9h0M577.5,117.6h0M519.2,101.0h0M563.1,117.4h0M557.6,109.7h0M584.1,110.4h0M503.9,104.1h0M556.1,116.3h0M471.3,103.6h0M568.5,109.9h0M499.9,111.4h0M517.7,115.7h0M494.5,103.6h0M551.5,105.7h0M566.1,111.7h0M536.6,106.3h0M552.4,101.8h0M481.1,102.7h0M441.8,119.5h0M496.4,116.1h0M502.7,109.8h0M516.3,112.7h0M550.9,120.9h0M560.2,107.4h0M553.0,117.2h0M574.3,115.0h0M557.9,110.1h0M567.7,109.6h0M507.7,103.3h0M524.5,116.8h0M425.2,112.1h0M583.0,111.2h0M529.5,101.4h0M462.9,101.2h0M531.6,112.0h0M526.4,116.1h0M511.8,103.3h0M536.5,101.2h0M497.8,103.0h0M527.4,102.5h0M514.4,104.5h0M512.6,116.6h0M486.7,118.8h0M535.5,107.2h0M556.2,106.5h0M561.2,120.9h0M515.2,120.7h0M579.3,119.3h0M466.2,119.6h0M543.2,112.0h0M444.7,103.4h0M533.1,120.3h0M535.9,102.3h0M564.2,101.1h0M555.1,114.3h0M509.1,119.8h0M571.7,109.3h0M538.8,105.5h0M495.5,113.0h0M462.9,118.3h0M505.0,116.0h0M533.3,106.2h0M546.8,108.5h0M521.6,118.2h0M569.0,110.3h0M563.6,108.1h0M468.1,104.3h0M532.5,116.6h0M564.3,110.8h0M538.9,110.9h0M509.1,118.5h0M537.9,117.3h0M498.8,114.4h0M573.6,106.7h0M552.4,113.2h0M443.2,115.0h0M537.0,121.0h0M567.6,116.5h0M490.9,118.9h0M508.1,116.4h0M543.2,111.0h0M543.3,117.3h0M560.7,105.7h0M570.6,118.3h0M481.6,101.1h0M515.2,106.4h0M568.7,101.9h0M453.8,119.1h0M574.9,114.8h0M505.1,120.1h0M521.7,115.2h0M450.4,112.6h0M496.0,108.1h0M565.0,104.3h0M565.6,103.4h0M533.8,111.1h0M532.5,117.2h0M493.9,112.0h0M545.3,105.6h0M526.1,104.7h0M530.3,106.6h0M565.3,112.6h0M459.9,111.5h0M535.1,105.3h0M510.9,103.0h0M548.1,107.1h0M500.4,102.5h0M424.1,107.2h0M552.1,117.9h0M531.9,115.3h0M474.8,115.8h0M534.3,104.2h0M513.7,119.9h0M541.3,101.9h0M577.7,103.1h0M452.8,110.8h0M491.5,111.7h0M498.2,102.9h0M511.1,103.5h0M499.6,101.2h0M485.4,106.5h0M463.6,111.8h0M473.9,106.7h0M455.0,115.4h0M552.9,119.4h0M482.9,117.8h0M552.6,111.1h0M510.0,101.1h0M510.8,109.1h0M475.0,118.0h0M542.3,109.5h0M525.0,112.0h0M572.0,117.7h0M582.5,115.4h0M428.5,110.8h0M516.5,120.1h0M505.7,102.5h0M470.1,120.0h0M487.9,103.0h0M501.8,117.6h0M522.0,109.5h0M455.3,117.2h0M532.3,115.2h0M517.9,120.7h0M526.2,104.0h0M570.1,107.6h0M543.8,108.3h0M547.6,107.7h0M523.7,109.2h0M465.6,121.4h0M574.8,108.3h0M552.7,113.4h0M428.9,113.2h0M560.6,117.1h0M549.6,114.3h0M434.5,110.2h0M519.3,113.6h0M516.3,112.9h0M547.5,112.2h0M560.7,113.4h0M521.6,109.7h0M500.0,105.7h0M571.9,106.4h0M536.9,109.0h0M522.2,108.6h0M559.7,105.2h0M549.0,117.3h0M527.7,115.5h0M485.6,106.1h0M427.3,109.5h0M573.3,104.2h0M521.2,121.0h0M488.2,112.7h0M532.7,115.2h0M570.9,100.9h0M563.0,112.5h0M559.1,113.1h0M482.2,103.2h0M523.1,113.8h0M507.0,114.8h0M463.2,108.4h0M577.1,101.4h0M499.3,114.4h0M482.0,107.7h0M494.9,116.4h0M548.9,105.1h0M529.9,109.0h0M475.3,104.1h0M481.9,120.6h0M566.1,121.2h0M518.1,110.9h0M548.2,110.8h0M515.0,109.3h0M528.6,108.3h0M475.0,106.5h0M578.4,112.4h0M523.9,109.3h0M515.6,107.1h0M563.3,116.0h0M490.0,112.9h0M534.8,103.0h0M576.1,116.9h0M530.4,108.0h0M536.4,119.1h0M544.4,103.0h0M482.9,111.1h0M529.0,111.1h0M538.8,112.0h0M544.2,105.4h0M532.9,114.2h0M540.5,116.7h0M543.5,106.7h0M569.5,102.1h0M562.5,119.4h0M546.9,111.3h0M496.0,109.6h0M525.9,106.5h0M540.2,109.0h0M446.2,107.9h0M537.5,112.7h0M580.9,110.8h0M568.7,110.0h0M573.6,115.0h0M445.2,110.3h0M448.8,102.4h0M461.6,118.2h0M475.9,111.8h0M574.9,104.0h0M542.3,112.9h0M579.2,111.1h0M460.1,105.5h0M575.1,114.2h0M506.7,119.2h0M424.2,117.4h0M565.9,114.6h0M507.2,102.2h0M557.1,120.4h0M559.8,108.0h0M537.2,103.3h0M473.2,114.8h0M572.2,111.8h0M455.7,109.5h0M523.9,115.6h0M546.9,107.2h0M487.8,120.7h0M555.3,121.6h0M496.6,109.4h0M549.8,103.7h0M576.2,102.0h0M528.7,105.7h0M566.3,111.3h0M552.6,118.6h0M575.9,105.9h0M571.6,106.7h0M460.7,118.1h0M512.2,114.9h0M574.2,120.9h0M536.5,111.8h0M527.5,116.5h0M526.9,106.5h0M481.9,105.4h0M465.7,101.1h0M528.4,104.9h0M525.6,105.6h0M583.5,114.1h0M477.0,103.5h0M584.4,108.7h0M529.6,104.3h0M569.4,116.2h0M544.2,112.4h0M581.9,110.3h0M499.6,118.1h0M534.4,107.4h0M450.8,112.1h0M548.8,101.8h0M551.5,111.6h0M570.7,112.8h0M475.4,119.5h0M566.5,107.7h0M503.2,106.1h0M534.1,113.1h0M548.1,101.3h0M515.0,116.8h0M535.2,103.7h0M492.2,109.4h0M524.8,106.4h0M556.4,120.7h0M468.2,107.3h0M489.7,120.2h0M541.6,105.6h0M561.0,111.6h0M497.1,101.8h0M516.4,110.4h0M521.0,108.8h0M533.4,103.5h0M558.3,104.9h0M554.5,113.0h0M475.8,116.1h0M521.7,101.7h0M491.0,116.9h0M499.4,117.0h0M583.3,109.2h0M541.3,113.9h0M509.8,106.3h0M491.5,104.2h0M551.0,108.3h0M566.5,102.6h0M464.3,120.0h0M491.4,115.2h0M513.5,106.2h0M531.0,107.0h0M574.0,113.6h0M522.6,115.0h0M562.6,112.4h0M576.7,114.7h0M504.2,107.3h0M513.9,116.8h0M538.6,116.5h0M463.0,110.4h0M455.2,113.4h0M431.6,120.2h0M428.4,119.0h0M496.8,113.7h0M520.7,112.0h0M515.0,110.2h0M501.7,112.4h0M461.4,113.2h0M517.0,106.9h0M500.4,109.3h0M513.4,116.7h0M562.4,111.7h0M561.9,106.6h0M474.1,107.6h0M560.6,120.2h0M455.9,107.0h0M575.2,116.3h0M516.7,120.4h0M521.0,103.4h0M473.5,116.3h0M546.7,103.2h0M524.5,105.4h0M442.3,113.4h0M517.2,118.2h0M472.9,119.9h0M520.7,104.2h0M556.2,118.9h0M552.2,114.4h0M482.2,110.5h0M493.4,118.9h0M569.7,110.3h0M575.4,109.6h0M561.4,112.4h0M485.3,121.1h0M555.3,108.5h0M550.7,117.1h0M550.1,115.2h0M524.4,111.3h0M480.6,111.2h0M536.2,116.3h0M545.1,114.1h0M489.1,117.2h0M577.5,110.0h0M535.0,111.6h0M577.4,117.8h0M455.9,101.3h0M550.9,106.3h0M555.9,116.1h0M545.9,113.7h0M563.3,109.5h0M470.2,119.5h0M444.7,105.6h0M546.7,116.3h0M430.5,103.3h0M563.9,119.2h0M465.1,109.7h0M446.8,121.0h0M581.1,106.5h0M464.3,113.1h0M534.8,119.6h0M463.4,112.6h0M579.6,109.4h0M528.5,117.0h0M557.2,114.5h0M423.8,121.0h0M452.3,116.8h0M569.5,109.2h0M558.5,112.4h0M576.3,119.9h0M497.4,111.7h0M493.6,106.3h0M507.5,117.4h0M437.9,110.5h0M565.8,112.0h0M534.2,101.2h0M550.8,103.9h0M492.6,104.3h0M449.8,110.4h0M552.1,109.9h0M529.0,107.6h0M566.4,110.1h0M427.3,109.4h0M571.7,104.2h0M565.3,105.0h0M446.8,119.3h0M539.7,107.0h0M415.2,111.5h0M536.9,108.5h0M563.4,118.7h0M468.5,108.8h0M452.8,113.7h0M536.8,102.4h0M530.3,107.6h0M486.6,116.3h0M577.8,120.3h0M525.3,118.7h0M548.4,114.0h0M504.6,119.4h0M464.7,105.3h0M537.0,104.7h0M570.2,118.3h0M529.0,108.0h0M550.4,121.3h0M562.3,107.4h0M490.7,108.9h0M563.8,121.2h0M574.1,104.4h0M487.2,116.6h0M527.8,100.9h0M450.0,107.7h0M522.9,111.6h0M481.3,114.5h0M463.3,113.1h0M542.2,120.3h0M548.0,103.8h0M493.8,113.3h0M526.7,103.2h0M498.6,108.1h0M573.9,106.4h0M491.5,111.1h0M576.9,119.0h0M545.4,110.4h0M453.3,114.3h0M528.2,109.0h0M561.8,108.1h0M487.7,116.7h0M511.5,110.1h0M533.8,102.2h0M438.9,121.3h0M575.7,113.9h0M451.1,106.4h0M557.2,118.3h0M465.2,120.8h0M451.2,111.7h0M500.0,120.1h0M574.0,103.5h0M498.4,116.6h0M521.9,120.8h0M550.6,106.1h0M501.9,108.7h0M554.9,101.1h0M542.3,108.1h0M514.7,110.3h0M505.7,113.1h0M501.9,107.7h0M517.9,111.9h0M571.0,110.3h0M482.3,101.3h0M461.4,109.1h0M578.5,112.4h0M575.3,116.9h0M439.8,102.1h0M559.5,109.5h0M510.3,110.2h0M493.5,113.9h0M570.7,111.0h0M511.3,112.0h0M573.2,104.3h0M482.8,115.9h0M475.3,107.4h0M519.3,120.6h0M562.2,106.4h0M548.6,118.8h0M576.4,111.3h0M500.3,101.4h0M512.7,102.3h0M513.0,110.5h0M566.4,108.4h0M563.3,115.7h0M477.8,118.4h0M528.0,114.9h0M448.1,115.3h0M544.3,100.9h0M546.2,102.5h0M490.5,102.5h0M552.3,109.1h0M556.3,114.5h0M482.1,120.9h0M475.9,102.8h0M521.7,116.0h0M494.2,121.0h0M567.9,105.0h0M476.3,107.7h0M511.4,110.5h0M577.4,113.9h0M506.4,104.0h0M432.2,108.2h0M577.1,110.4h0M475.2,121.0h0M526.9,112.6h0M524.6,104.9h0M549.4,109.7h0M528.8,115.0h0M566.6,105.8h0M529.3,106.7h0M569.8,118.8h0M463.4,120.4h0M493.6,110.0h0M503.9,112.6h0M458.9,103.5h0M481.9,102.3h0M530.9,111.6h0M481.9,113.3h0M458.4,114.7h0M557.6,118.3h0M456.1,101.6h0M532.4,113.2h0M456.5,103.2h0M425.4,104.1h0M491.8,120.7h0M421.2,107.8h0M502.0,107.3h0M531.8,112.5h0M549.9,120.5h0M443.5,105.8h0M534.4,108.0h0M537.3,117.0h0M509.2,120.1h0M501.9,112.3h0M475.6,105.4h0M513.6,116.1h0M469.3,109.0h0M528.7,116.2h0M525.2,116.0h0M499.0,117.0h0M504.5,114.0h0M522.3,104.2h0M522.2,114.0h0M531.6,117.1h0M555.6,118.2h0M519.3,104.5h0M564.9,121.0h0M562.7,114.9h0M512.2,118.5h0M510.4,106.3h0M453.5,119.7h0M510.4,111.9h0M567.1,104.5h0M511.3,117.2h0M569.0,102.6h0M460.0,104.5h0M559.4,117.4h0M491.4,104.1h0M517.6,110.0h0M541.5,111.7h0M522.8,103.7h0M504.7,118.8h0M552.2,105.6h0M467.8,118.2h0M571.3,117.8h0M549.6,119.3h0M447.0,101.5h0M506.7,106.9h0M442.5,119.5h0M508.4,111.3h0M507.3,102.3h0M505.8,114.7h0M571.9,121.2h0M550.9,114.3h0M530.6,105.8h0M521.9,118.3h0M565.5,104.4h0M473.3,112.6h0M515.3,120.6h0M568.8,102.9h0M466.5,101.0h0M566.5,117.7h0M583.2,108.1h0M517.9,121.4h0M557.6,101.7h0M563.9,101.4h0M572.8,105.0h0M512.9,116.8h0M571.2,105.4h0M552.3,114.9h0M571.7,113.8h0M492.7,109.0h0M557.1,108.9h0M480.2,103.5h0M537.1,109.4h0M512.9,116.9h0M563.7,121.4h0M439.5,100.9h0M463.0,109.1h0M579.7,108.4h0M546.8,102.9h0M578.8,107.4h0M450.2,104.7h0M563.0,119.9h0M508.8,113.3h0M483.1,103.4h0M561.9,110.2h0M464.8,118.4h0M527.7,105.3h0M573.8,104.2h0M552.2,110.9h0M518.8,112.8h0M561.3,103.8h0M471.2,105.7h0M475.1,101.4h0M543.1,110.2h0M535.8,114.0h0M568.9,113.2h0M497.4,106.5h0M508.1,111.5h0M565.9,107.9h0M521.2,111.9h0M466.3,104.7h0M528.6,104.3h0M535.8,104.0h0M554.9,102.6h0M549.1,101.9h0M424.0,101.8h0M551.3,117.6h0M460.4,121.4h0M566.1,121.6h0M531.8,103.2h0M508.2,108.5h0M506.3,116.7h0M544.3,111.5h0M502.0,101.6h0M502.3,101.5h0M472.3,108.8h0M491.8,101.8h0M569.5,106.0h0M546.2,104.8h0M520.8,104.7h0M440.4,120.1h0M487.7,104.1h0M537.9,112.5h0M576.6,110.5h0M511.1,113.7h0M555.2,120.4h0M522.1,115.0h0M556.3,107.1h0M444.8,106.7h0M575.5,107.6h0M561.2,119.6h0M498.6,108.4h0M523.5,115.6h0M427.1,106.6h0M444.3,102.9h0M569.3,121.5h0M545.3,103.8h0M495.3,121.1h0M505.7,113.3h0M542.0,102.5h0M445.7,111.9h0M437.7,102.9h0M560.3,111.2h0M570.4,105.4h0M550.7,108.0h0M554.9,105.2h0M575.6,102.3h0M523.2,113.6h0M477.0,105.5h0M484.9,112.4h0M529.9,118.1h0M558.1,112.7h0M552.1,107.0h0M573.5,102.2h0M511.4,112.2h0M496.8,113.8h0M525.3,115.9h0M491.7,107.9h0M493.3,111.0h0M450.5,118.4h0M577.1,102.0h0M558.7,112.4h0M580.2,114.1h0M441.9,118.8h0M460.5,114.9h0M498.0,104.7h0M558.8,116.2h0M553.7,115.1h0M579.1,117.6h0M537.4,117.5h0M505.4,119.2h0M440.8,108.7h0M509.8,107.2h0M432.6,112.0h0M430.7,114.9h0M556.7,118.2h0M538.8,115.6h0M538.6,121.3h0M567.4,121.4h0M562.3,112.3h0M581.3,113.7h0M457.2,116.5h0M438.1,113.9h0M557.6,112.3h0M575.4,110.1h0M497.0,106.9h0M545.0,101.4h0M476.7,106.7h0M523.0,110.0h0M425.1,114.5h0M506.6,119.8h0M522.9,105.1h0M448.7,108.7h0M549.8,110.6h0M536.0,116.9h0M577.8,110.2h0M532.9,109.9h0M495.9,101.7h0M483.9,101.4h0M545.9,108.7h0M518.2,110.1h0M517.0,107.0h0M528.5,106.8h0M528.6,109.6h0M557.6,104.9h0M573.9,119.4h0M461.1,120.9h0M539.4,119.1h0M445.6,120.7h0M560.7,120.8h0M541.0,107.8h0M552.8,104.0h0M519.3,103.8h0M580.8,105.7h0M549.3,121.5h0M575.0,101.4h0M522.3,107.4h0M545.4,120.1h0" stroke="#cdcdcd" stroke-width="1.7" stroke-linecap="round" fill="none"/>
<path d="M442.4,93.5h0M492.9,83.5h0M507.4,84.5h0M523.2,83.7h0M505.2,99.1h0M526.3,62.8h0M516.0,97.0h0M549.3,96.4h0M529.8,74.4h0M554.1,92.1h0M507.3,95.7h0M451.2,95.0h0M555.9,84.7h0M571.2,98.7h0M452.0,98.6h0M525.6,97.0h0M563.7,88.8h0M517.5,90.7h0M510.1,80.8h0M567.8,97.4h0M546.6,94.3h0M537.7,89.3h0M527.5,99.7h0M521.8,92.9h0M545.9,88.0h0M570.9,96.9h0M555.2,98.3h0M495.7,89.4h0M490.9,74.1h0M506.6,93.0h0M512.1,99.6h0M542.2,95.6h0M559.8,85.8h0M519.2,92.5h0M509.9,89.4h0M473.9,87.2h0M486.3,87.1h0M466.3,88.2h0M527.3,98.2h0M433.3,99.5h0M570.1,94.7h0M502.4,98.5h0M565.3,91.5h0M546.1,93.8h0M565.1,98.0h0M556.1,82.7h0M525.9,88.9h0M450.4,82.9h0M568.3,95.0h0M467.9,90.9h0M501.9,72.5h0M479.7,98.9h0M486.7,95.3h0M525.0,94.7h0M566.1,93.1h0M533.1,89.3h0M493.5,88.7h0M567.2,92.5h0M524.7,99.4h0M535.3,97.5h0M536.2,95.4h0M491.0,86.0h0M505.1,93.6h0M529.0,87.8h0M548.0,91.7h0M479.4,78.9h0M488.0,70.8h0M512.0,49.5h0M531.5,99.1h0M488.4,96.9h0M505.5,86.7h0M533.6,98.9h0M538.2,77.4h0M574.5,99.6h0M501.9,98.6h0M516.9,89.6h0M553.9,96.2h0M547.7,97.4h0M559.9,94.4h0M526.8,80.1h0M514.9,93.1h0M568.6,94.8h0M574.5,99.6h0M503.1,96.3h0M569.2,96.3h0M465.7,83.2h0M558.6,82.3h0M510.1,95.0h0M519.4,97.5h0M532.6,84.9h0M522.6,89.7h0M462.1,90.7h0M503.9,99.1h0M549.3,86.9h0M445.8,86.0h0M554.2,96.7h0M483.3,98.8h0M507.3,98.4h0M471.4,84.4h0M429.1,98.4h0M487.2,95.8h0M455.9,94.1h0M426.3,98.1h0M503.9,98.0h0M539.8,93.7h0M506.8,65.2h0M503.9,85.0h0M498.6,99.4h0M534.9,93.4h0M558.8,85.8h0M490.8,86.9h0M487.1,98.2h0M524.0,95.9h0M517.6,89.6h0M509.7,97.3h0M550.7,93.4h0M452.2,99.8h0M525.9,97.3h0M536.4,99.4h0M542.4,93.1h0M525.6,94.1h0M518.1,85.0h0M531.2,79.4h0M516.2,98.8h0M492.7,94.2h0M557.3,87.7h0M511.8,68.0h0M506.8,85.7h0M502.9,91.0h0M486.8,93.3h0M571.3,99.2h0M462.3,97.6h0M430.5,98.8h0M453.3,98.8h0M556.7,92.3h0M483.4,97.3h0M568.2,93.1h0M486.7,80.4h0M531.7,94.9h0M523.1,53.2h0M551.0,93.8h0M540.9,93.5h0M551.7,81.8h0M492.3,99.5h0M518.4,98.3h0M507.5,84.0h0M550.5,82.7h0M528.6,95.4h0M556.7,96.3h0M462.7,97.6h0M568.7,95.4h0M452.3,89.6h0M536.4,84.1h0M559.9,93.2h0M540.6,94.2h0M563.8,90.3h0M498.7,91.9h0M465.7,74.5h0M494.5,94.9h0M551.8,98.7h0M565.5,93.5h0M472.5,76.6h0M467.9,73.2h0M534.7,99.7h0M566.2,100.0h0M455.4,96.9h0M554.6,82.1h0M555.8,99.6h0M572.1,97.6h0M478.5,89.7h0M538.1,99.6h0M529.3,91.1h0M553.2,92.7h0M534.1,89.3h0M549.5,98.8h0M558.1,83.8h0M557.6,84.7h0M474.4,98.7h0M542.1,93.4h0M542.9,95.9h0M556.3,82.6h0M542.8,96.2h0M553.1,80.5h0M475.9,96.4h0M541.1,93.5h0M521.5,94.5h0M476.4,90.8h0M526.3,94.1h0M466.8,97.4h0M499.8,96.8h0M473.4,94.4h0M514.3,88.3h0M548.3,75.7h0M560.4,98.5h0M447.0,99.9h0M522.8,97.8h0M512.3,91.0h0M471.3,97.3h0M551.1,98.3h0M495.1,84.0h0M557.0,98.1h0M546.5,88.7h0M430.4,98.9h0M540.7,87.4h0M542.5,93.6h0M545.4,83.3h0M549.1,87.0h0M461.1,89.1h0M485.3,78.9h0M530.6,74.7h0M573.5,99.3h0M512.8,68.2h0M494.2,97.7h0M456.0,88.8h0M547.6,100.0h0M479.7,96.5h0M550.6,99.6h0M532.5,87.2h0M517.7,60.0h0M443.3,90.9h0M476.7,80.6h0M561.9,89.3h0M547.2,94.5h0M505.7,96.6h0M559.6,87.4h0M450.8,98.0h0M564.3,91.5h0M525.5,80.0h0M527.6,84.5h0M537.6,77.9h0M495.0,41.8h0M555.0,87.2h0M475.5,84.9h0M470.0,76.8h0M556.9,80.6h0M490.2,88.7h0M537.0,92.4h0M458.4,95.2h0M516.2,97.3h0M503.3,95.8h0M569.9,93.8h0M562.7,98.5h0M549.3,95.5h0M554.5,82.1h0M500.3,93.0h0M502.4,89.7h0M470.9,95.9h0M456.7,88.2h0M508.8,65.4h0M508.3,98.4h0M522.1,58.9h0M533.2,62.2h0M569.6,97.9h0M539.7,91.1h0M503.5,89.9h0M479.1,89.8h0M500.9,89.2h0M464.0,83.0h0M569.5,94.2h0M512.3,94.4h0M562.3,91.4h0M490.3,71.0h0M557.5,84.1h0M478.2,86.0h0M544.2,98.0h0M500.4,95.4h0M497.8,96.6h0M543.3,99.0h0M508.8,94.3h0M473.8,75.0h0M466.0,89.3h0M539.5,91.0h0M472.5,87.4h0M510.0,95.6h0M512.8,97.5h0M482.0,86.0h0M546.3,95.7h0M560.3,87.2h0M530.9,90.6h0M504.6,93.6h0M558.6,93.2h0M551.3,92.6h0M528.4,68.5h0M477.9,96.9h0M502.4,96.3h0M533.1,89.2h0M494.2,94.7h0M476.6,96.8h0M507.6,65.0h0M462.5,92.0h0M542.6,93.6h0M567.3,93.0h0M559.7,85.7h0M555.2,92.3h0M498.2,79.5h0M573.7,99.7h0M553.3,92.9h0M492.1,95.3h0M486.6,61.1h0M555.3,96.3h0M566.7,91.3h0M546.1,77.5h0M453.4,77.9h0M495.9,86.0h0M542.5,97.7h0M493.5,89.1h0M562.2,89.2h0M556.5,84.5h0M534.6,95.6h0M462.7,98.4h0M484.6,91.3h0M453.1,75.1h0M499.9,82.2h0M463.2,89.2h0M529.0,96.3h0M531.7,93.1h0M525.0,70.0h0M540.8,71.1h0M502.9,90.3h0M503.1,66.7h0" stroke="#f3725f" stroke-width="2.0" stroke-linecap="round" fill="none"/>
<path d="M547.3,125.4h0M501.0,139.0h0M487.7,126.6h0M476.7,133.8h0M572.7,123.2h0M536.6,130.4h0M531.6,127.4h0M561.9,130.8h0M503.5,147.0h0M488.7,125.5h0M565.1,131.9h0M491.6,141.6h0M544.8,124.7h0M526.8,130.8h0M468.5,141.2h0M486.4,135.5h0M457.4,125.2h0M510.7,123.1h0M512.4,126.9h0M561.9,131.7h0M550.4,138.7h0M441.7,126.8h0M560.6,123.2h0M471.5,130.8h0M532.7,135.3h0M531.3,132.7h0M502.3,140.5h0M562.0,131.9h0M525.2,125.4h0M454.2,132.2h0M526.2,139.1h0M563.9,124.7h0M449.3,126.6h0M441.6,124.5h0M470.2,133.3h0M546.6,124.2h0M541.4,123.7h0M561.2,137.4h0M532.2,140.2h0M478.9,137.1h0M496.4,132.7h0M488.9,129.3h0M540.6,141.9h0M496.4,133.9h0M514.5,142.6h0M507.5,141.6h0M558.6,140.0h0M503.1,129.4h0M556.2,124.8h0M556.2,127.2h0M557.2,124.0h0M505.2,134.6h0M509.9,131.8h0M565.5,128.2h0M509.0,124.8h0M512.5,130.3h0M547.9,122.5h0M562.9,126.1h0M504.7,125.1h0M568.2,126.6h0M502.6,122.6h0M566.3,124.7h0M558.0,122.6h0M503.3,145.2h0M472.2,130.0h0M527.9,125.8h0M518.2,136.5h0M551.5,141.0h0M536.8,123.4h0M475.8,135.1h0M566.9,122.3h0M559.8,127.9h0M511.2,133.0h0M566.6,125.0h0M528.3,124.7h0M457.5,123.6h0M532.3,124.6h0M470.9,137.3h0M555.5,132.0h0M507.5,134.2h0M547.8,130.5h0M480.1,131.4h0M568.7,127.6h0M524.6,149.4h0M536.1,123.2h0M517.3,147.2h0M532.8,127.8h0M501.5,125.4h0M559.5,134.7h0M467.5,135.5h0M534.3,125.9h0M563.5,133.6h0M536.9,145.4h0M479.5,131.0h0M530.1,128.0h0M474.5,133.3h0M561.7,123.1h0M498.5,132.8h0M527.3,153.7h0M495.7,125.1h0M480.1,123.2h0M530.5,130.4h0M474.3,141.9h0M550.6,129.8h0M553.9,124.1h0M525.5,123.6h0M512.4,129.5h0M567.2,126.3h0M552.5,130.5h0M546.0,124.3h0M550.9,128.1h0M481.0,135.0h0M544.1,124.8h0M540.0,123.4h0M569.6,124.0h0M495.2,139.1h0M536.7,123.2h0M430.9,127.1h0M561.1,132.8h0M521.8,145.7h0M501.8,125.6h0M569.6,122.7h0M490.0,123.3h0M566.6,127.5h0M481.3,125.2h0M518.3,138.2h0M522.7,126.7h0M495.8,130.8h0M566.7,125.7h0M555.6,135.2h0M539.8,129.7h0M551.5,124.8h0M471.6,122.9h0M485.1,125.3h0M472.3,133.0h0M502.3,142.2h0M476.5,126.5h0M470.0,133.8h0M504.7,123.6h0M539.1,128.8h0M452.3,143.8h0M497.6,132.7h0M536.9,150.9h0M545.0,124.2h0M512.2,132.0h0M526.4,140.5h0M518.3,137.8h0M497.8,127.2h0M463.7,137.8h0M548.7,133.3h0M452.4,132.4h0M539.0,139.5h0M556.5,122.9h0M503.5,126.9h0M546.9,138.8h0M565.5,130.6h0M536.0,127.2h0M565.5,124.6h0M517.9,130.1h0M571.2,123.4h0M521.7,134.6h0M488.0,142.8h0M442.9,123.4h0M521.1,125.3h0M521.4,123.6h0M556.8,122.7h0M467.4,136.3h0M530.0,152.5h0M521.0,126.1h0M455.3,136.0h0M541.4,123.7h0M543.4,126.4h0M562.9,130.8h0M562.0,124.3h0M525.2,127.9h0M502.8,122.5h0M567.2,131.1h0M540.3,130.7h0M569.3,127.0h0M546.3,146.2h0M516.0,145.2h0M528.8,127.4h0M498.6,180.6h0M536.0,144.8h0M540.8,123.2h0M549.5,147.7h0M553.1,136.3h0M489.8,147.4h0M505.9,137.7h0M522.3,123.3h0M462.2,144.0h0M565.4,129.2h0M478.3,126.5h0M517.5,126.9h0M468.4,135.6h0M541.8,122.7h0M450.4,130.9h0M517.8,152.3h0M532.8,123.0h0M537.3,154.7h0M473.9,127.0h0M536.1,128.0h0M562.9,127.8h0M481.6,128.2h0M431.5,122.3h0M497.4,126.0h0M525.7,146.5h0M521.2,129.6h0M567.1,126.0h0M512.3,128.6h0M523.3,130.7h0M529.7,123.6h0M551.0,131.6h0M549.1,124.3h0M546.5,125.1h0M487.6,125.7h0M550.5,128.4h0M529.5,130.3h0M554.0,135.6h0M515.1,150.4h0M552.5,135.2h0M554.3,125.9h0M543.9,124.3h0M540.2,128.6h0M544.0,130.5h0M539.7,124.5h0M494.9,124.4h0M505.3,139.3h0M509.9,138.3h0M465.3,140.7h0M532.3,136.2h0M510.9,123.0h0M535.9,144.4h0M483.7,123.1h0M548.3,136.7h0M454.1,122.8h0M522.6,151.9h0M562.4,127.4h0M528.6,124.6h0M521.7,126.6h0M482.1,128.6h0M537.9,147.1h0M540.4,146.5h0M467.8,129.2h0M566.8,130.0h0M476.2,125.0h0M532.4,126.5h0M529.9,126.7h0M567.4,130.2h0M525.6,130.1h0M559.1,131.8h0M462.3,133.1h0M494.1,123.4h0M490.7,143.8h0M553.0,127.4h0M513.0,143.3h0M450.4,131.9h0M556.5,122.3h0M560.2,122.9h0M548.9,141.2h0M500.1,151.8h0M546.8,139.6h0M525.5,138.5h0M535.2,133.2h0M534.4,146.0h0M557.3,122.6h0M533.3,145.4h0M571.4,123.3h0M538.0,122.6h0M517.3,127.4h0M499.0,127.5h0M574.1,122.3h0M477.8,123.0h0M506.3,140.1h0M440.7,131.7h0M469.7,142.8h0M514.4,125.9h0M464.4,141.8h0M563.1,127.5h0M511.7,142.5h0M558.6,132.9h0M541.9,124.4h0M459.0,125.0h0M489.9,144.0h0M512.2,137.6h0M514.6,146.8h0M440.1,127.2h0M522.0,130.5h0M524.4,125.9h0M574.2,123.2h0M534.6,139.6h0M557.7,126.9h0M443.1,125.8h0M512.7,172.7h0M452.7,127.1h0M515.3,151.2h0M488.5,125.3h0M522.8,138.7h0M561.0,128.7h0M570.6,128.1h0M494.6,145.2h0M479.6,132.2h0M542.6,137.5h0M540.5,134.5h0M498.4,123.5h0M530.5,147.0h0M564.3,133.6h0M526.0,125.3h0M563.9,131.4h0M549.4,123.3h0M541.5,139.7h0M544.9,124.1h0M557.3,123.2h0M519.3,150.1h0M525.7,124.2h0M543.6,123.7h0M475.2,128.1h0M472.1,125.0h0M560.0,124.6h0M559.1,126.1h0M477.5,136.0h0M552.3,126.7h0M436.5,124.0h0M499.5,144.2h0M552.0,140.6h0M531.3,127.7h0M484.7,127.0h0M480.4,132.5h0M532.0,136.3h0M562.6,124.9h0M555.4,138.8h0M546.9,123.8h0M521.9,132.1h0M567.5,130.2h0M437.2,132.6h0M480.5,124.9h0M442.3,123.5h0M536.7,123.2h0M492.1,124.1h0M497.7,122.5h0M541.2,129.6h0M507.8,125.0h0M549.6,133.4h0M515.8,126.1h0M491.6,128.0h0M440.7,123.7h0M492.3,129.4h0M482.0,137.1h0M524.4,122.8h0M544.3,125.8h0M537.0,143.6h0M508.2,125.8h0M496.5,123.9h0M508.9,128.1h0M547.7,146.3h0M503.1,138.7h0M502.9,131.6h0M495.6,138.7h0M464.2,138.6h0M466.0,123.4h0M443.2,127.1h0M496.7,130.1h0M494.9,129.2h0M535.5,124.3h0M518.6,131.7h0M537.4,127.0h0M532.1,125.0h0M520.7,128.2h0M540.0,129.4h0M569.5,125.5h0M485.6,135.8h0M544.3,150.0h0M516.3,141.6h0M533.3,122.5h0M451.6,126.4h0M460.4,136.5h0M531.6,124.3h0M463.8,133.0h0M477.8,144.9h0M492.5,128.0h0M557.4,127.4h0M459.8,133.8h0M546.3,150.8h0M511.2,128.6h0M450.5,125.5h0M541.5,143.6h0M534.9,123.6h0M570.1,128.5h0M493.0,129.4h0M538.3,129.4h0M473.6,131.7h0M483.6,130.2h0M549.5,132.3h0M510.8,139.0h0M525.7,122.5h0M520.9,126.3h0M570.4,123.4h0M548.4,135.2h0M474.1,130.8h0M542.7,149.1h0M520.4,129.3h0M549.4,122.4h0M555.8,129.0h0M527.7,125.3h0M535.6,130.2h0M474.1,124.0h0M516.4,123.4h0M519.5,129.5h0M522.9,135.9h0M508.0,124.5h0M518.9,123.9h0M516.3,127.2h0M496.5,141.9h0M543.0,128.2h0M552.1,127.9h0M535.7,160.1h0M536.1,139.6h0M533.1,151.0h0M475.7,124.6h0M543.2,124.5h0M489.2,143.5h0M549.3,124.0h0M572.8,122.3h0M498.8,140.8h0M458.3,124.4h0M511.3,127.1h0M561.5,134.8h0M499.7,127.4h0M529.6,123.5h0M522.3,129.7h0M537.8,132.4h0M475.4,123.8h0M553.8,126.8h0M519.8,124.0h0M515.4,124.4h0M463.4,140.1h0M491.1,130.9h0M477.2,131.6h0M542.0,124.3h0M466.5,124.7h0M555.1,137.0h0M530.3,125.0h0M491.0,124.6h0M540.8,129.0h0M544.1,130.7h0M494.6,122.9h0M509.6,129.0h0M472.4,126.6h0M534.8,122.3h0M450.7,142.1h0M527.7,123.3h0M464.6,124.4h0M459.7,132.3h0M533.7,125.2h0M565.6,130.5h0M488.7,122.6h0M434.7,122.6h0M505.8,125.1h0M560.8,126.4h0M528.5,135.7h0M565.2,126.6h0M463.8,127.5h0M543.6,137.3h0M466.4,146.9h0M503.6,137.9h0M431.7,125.9h0M492.3,123.9h0M479.8,131.1h0M533.2,133.7h0M504.5,122.5h0M533.9,123.9h0M515.0,126.2h0M528.9,136.7h0M560.6,133.8h0M483.1,125.4h0M445.0,122.4h0M509.0,125.5h0M525.4,138.0h0M522.7,127.3h0M499.5,133.4h0M502.5,137.8h0M571.5,125.1h0M486.4,130.1h0M506.7,124.0h0M452.9,123.2h0M536.7,127.9h0M459.5,123.2h0M535.3,129.4h0M550.6,123.3h0M468.7,138.9h0M554.6,129.7h0M517.4,133.0h0M554.3,132.7h0M465.0,140.4h0M559.5,137.7h0M519.0,126.6h0M570.7,125.0h0M550.4,132.7h0M425.8,122.4h0M531.6,124.9h0M569.5,126.1h0M531.1,125.5h0M560.8,127.7h0M560.8,130.6h0M484.9,136.0h0M537.0,123.7h0M536.3,125.4h0M526.1,125.3h0M482.9,124.4h0M572.0,126.3h0M477.0,128.1h0M476.2,128.7h0M522.7,134.2h0M526.3,132.4h0M531.6,166.2h0M518.9,122.6h0M560.4,124.3h0M509.1,123.8h0M529.5,123.4h0M573.0,124.3h0M507.8,131.5h0M540.7,137.0h0M537.6,125.2h0M487.9,123.4h0M466.8,129.6h0M508.2,129.7h0M486.9,139.5h0M451.6,124.2h0M474.6,153.7h0M481.6,125.1h0M529.4,123.3h0M542.4,132.4h0M543.7,142.4h0M517.6,127.0h0M512.7,141.9h0M560.2,129.2h0M511.5,152.7h0M491.7,123.7h0M540.5,136.5h0M521.6,123.0h0M559.7,131.0h0M552.3,134.0h0M491.0,130.5h0M565.4,129.6h0M514.9,149.4h0M517.3,130.2h0M492.1,123.1h0M567.2,124.3h0M505.2,129.2h0M549.1,143.6h0M429.3,123.4h0M550.1,134.7h0M530.8,123.3h0M442.2,137.8h0M563.7,128.7h0M510.2,134.9h0M466.7,123.0h0M519.0,124.3h0M516.2,138.5h0M541.4,142.1h0" stroke="#33c633" stroke-width="2.0" stroke-linecap="round" fill="none"/>
<line x1="412.0" y1="111.2" x2="588.4" y2="111.2" stroke="#808080" stroke-width="0.6"/>
<path d="M412.0,111.2 L500.3,23.0 L588.4,111.2 L500.3,199.4 Z" fill="none" stroke="#222" stroke-width="1.1"/>
<text x="411.00" y="104.00" font-size="8.8" text-anchor="middle" textLength="5.30" lengthAdjust="spacingAndGlyphs" >0</text>
<text x="426.00" y="88.00" font-size="8.8" text-anchor="middle" textLength="10.60" lengthAdjust="spacingAndGlyphs" >20</text>
<text x="442.50" y="72.00" font-size="8.8" text-anchor="middle" textLength="10.60" lengthAdjust="spacingAndGlyphs" >40</text>
<text x="458.50" y="56.00" font-size="8.8" text-anchor="middle" textLength="10.60" lengthAdjust="spacingAndGlyphs" >60</text>
<text x="474.30" y="39.60" font-size="8.8" text-anchor="middle" textLength="10.60" lengthAdjust="spacingAndGlyphs" >80</text>
<text x="489.80" y="24.20" font-size="8.8" text-anchor="middle" textLength="15.90" lengthAdjust="spacingAndGlyphs" >100</text>
<text x="411.10" y="124.60" font-size="8.8" text-anchor="middle" textLength="5.30" lengthAdjust="spacingAndGlyphs" >0</text>
<text x="426.40" y="140.70" font-size="8.8" text-anchor="middle" textLength="10.60" lengthAdjust="spacingAndGlyphs" >20</text>
<text x="442.20" y="156.60" font-size="8.8" text-anchor="middle" textLength="10.60" lengthAdjust="spacingAndGlyphs" >40</text>
<text x="457.30" y="172.60" font-size="8.8" text-anchor="middle" textLength="10.60" lengthAdjust="spacingAndGlyphs" >60</text>
<text x="473.60" y="188.80" font-size="8.8" text-anchor="middle" textLength="10.60" lengthAdjust="spacingAndGlyphs" >80</text>
<text x="488.60" y="204.80" font-size="8.8" text-anchor="middle" textLength="15.90" lengthAdjust="spacingAndGlyphs" >100</text>
<g transform="translate(433.15,48.9) rotate(-45)"><text x="0" y="0" font-size="9.6" text-anchor="middle" fill="#1a1a1a" textLength="79" lengthAdjust="spacingAndGlyphs">v-SVZ VMRs mean</text></g>
<g transform="translate(440.1,56.5) rotate(-45)"><text x="0" y="0" font-size="9.6" text-anchor="middle" fill="#1a1a1a" textLength="112" lengthAdjust="spacingAndGlyphs"><tspan font-weight="bold">SFRP1-OE</tspan> Methylation %</text></g>
<g transform="translate(438.5,171.15) rotate(45)"><text x="0" y="0" font-size="9.6" text-anchor="middle" fill="#1a1a1a" textLength="81" lengthAdjust="spacingAndGlyphs">v-SVZ VMRs mean</text></g>
<g transform="translate(431.55,179.2) rotate(45)"><text x="0" y="0" font-size="9.6" text-anchor="middle" fill="#1a1a1a" textLength="100" lengthAdjust="spacingAndGlyphs"><tspan font-weight="bold">control</tspan> Methylation %</text></g>
<g transform="translate(552.5,55.5) rotate(45)"><text x="0" y="0" font-size="9.2" text-anchor="middle" fill="#8e4a44" stroke="#8e4a44" stroke-width="0.25" textLength="70" lengthAdjust="spacingAndGlyphs">Hypomethylated</text></g>
<g transform="translate(544.4,62.7) rotate(45)"><text x="0" y="0" font-size="9.2" text-anchor="middle" fill="#8e4a44" stroke="#8e4a44" stroke-width="0.25" textLength="42" lengthAdjust="spacingAndGlyphs">in control</text></g>
<g transform="translate(551.5,162) rotate(-45)"><text x="0" y="0" font-size="9.2" text-anchor="middle" fill="#3b8f3b" stroke="#3b8f3b" stroke-width="0.25" textLength="70" lengthAdjust="spacingAndGlyphs">Hypomethylated</text></g>
<g transform="translate(560,169) rotate(-45)"><text x="0" y="0" font-size="9.2" text-anchor="middle" fill="#3b8f3b" stroke="#3b8f3b" stroke-width="0.25" textLength="42" lengthAdjust="spacingAndGlyphs">in SFRP1</text></g>
<rect x="598.3" y="23.2" width="86.7" height="77.6" fill="url(#gRed)"/>
<rect x="598.3" y="100.8" width="86.7" height="20.7" fill="url(#gGray)"/>
<rect x="598.3" y="121.5" width="86.7" height="77.5" fill="url(#gGreen)"/>
<line x1="594.5" y1="23.2" x2="594.5" y2="198.5" stroke="#333" stroke-width="0.9"/>
<line x1="588.5" y1="111.1" x2="685" y2="111.1" stroke="#888" stroke-width="0.6" stroke-dasharray="3,2"/>
<text x="596.60" y="17.90" font-size="8.8" textLength="87.10" lengthAdjust="spacingAndGlyphs" >v-SVZ cell type VMR</text>
<path d="M600,56.5 C601,62 603,67 606,71 C611,78 620,84 628,88 C634,91 639,93 639.5,95 C639.5,97.5 633,99.5 628.5,100.6" fill="none" stroke="#333" stroke-width="3.4" stroke-linecap="round"/>
<path d="M600,56.5 C601,62 603,67 606,71 C611,78 620,84 628,88 C634,91 639,93 639.5,95 C639.5,97.5 633,99.5 628.5,100.6" fill="none" stroke="#5a5a5a" stroke-width="2.0" stroke-linecap="round"/>
<path d="M601.8,57 C603,62.5 605,67.5 608,71.5 C613,78 622,83.5 630,87.5 C636,90.5 641,92 641.5,94 C641.5,96.5 636,99 631,100.5" fill="none" stroke="#333" stroke-width="3.4" stroke-linecap="round"/>
<path d="M601.8,57 C603,62.5 605,67.5 608,71.5 C613,78 622,83.5 630,87.5 C636,90.5 641,92 641.5,94 C641.5,96.5 636,99 631,100.5" fill="none" stroke="#cccccc" stroke-width="2.0" stroke-linecap="round"/>
<path d="M603.6,57.5 C605,63 607,67.5 610,71 C616,77 627,80.5 639,84.5 C648,87.5 655,90.5 656.3,93.5 C657,96.5 650,99 643,100.6" fill="none" stroke="#333" stroke-width="3.4" stroke-linecap="round"/>
<path d="M603.6,57.5 C605,63 607,67.5 610,71 C616,77 627,80.5 639,84.5 C648,87.5 655,90.5 656.3,93.5 C657,96.5 650,99 643,100.6" fill="none" stroke="#ffffff" stroke-width="2.0" stroke-linecap="round"/>
<path d="M628,101 C618,104 609,107.5 610.3,110.5 C612,114 632,118 655,121.5" fill="none" stroke="#555" stroke-width="0.5" stroke-dasharray="1.5,1"/>
<path d="M631,100.8 C622,104 614,108 614.5,111.2 C615,115 630,118.5 643,121.3" fill="none" stroke="#555" stroke-width="0.5" stroke-dasharray="1.5,1"/>
<path d="M643.5,101 C630,104 619,108 619,111.5 C619,115 631,118.5 641.5,121.3" fill="none" stroke="#555" stroke-width="0.5" stroke-dasharray="1.5,1"/>
<path d="M641.5,121.6 C650,123 656.5,126 656.5,128.8 C656.5,132 651,134 643,137 C630,141.5 616,146 608,152 C603,157 601.5,164 601.5,171" fill="none" stroke="#333" stroke-width="3.4" stroke-linecap="round"/>
<path d="M641.5,121.6 C650,123 656.5,126 656.5,128.8 C656.5,132 651,134 643,137 C630,141.5 616,146 608,152 C603,157 601.5,164 601.5,171" fill="none" stroke="#ffffff" stroke-width="2.0" stroke-linecap="round"/>
<path d="M643,121.6 C652,123 658.5,126 658.3,129 C658,132 652.5,134.5 645,137.5 C632,142 618,147 609.5,153 C603.5,158 600.5,166 600.3,176" fill="none" stroke="#333" stroke-width="3.4" stroke-linecap="round"/>
<path d="M643,121.6 C652,123 658.5,126 658.3,129 C658,132 652.5,134.5 645,137.5 C632,142 618,147 609.5,153 C603.5,158 600.5,166 600.3,176" fill="none" stroke="#cccccc" stroke-width="2.0" stroke-linecap="round"/>
<path d="M655,121.4 C668,123.5 681,125 682,128.5 C682.5,132 672,134.5 660,137 C645,140 628,144 614,149.5 C603,154 600,162 599,172 C598.5,178 598.3,184 598.3,189" fill="none" stroke="#333" stroke-width="3.4" stroke-linecap="round"/>
<path d="M655,121.4 C668,123.5 681,125 682,128.5 C682.5,132 672,134.5 660,137 C645,140 628,144 614,149.5 C603,154 600,162 599,172 C598.5,178 598.3,184 598.3,189" fill="none" stroke="#5a5a5a" stroke-width="2.0" stroke-linecap="round"/>
<rect x="606.8" y="29.15" width="9.1" height="2.3" fill="#5a5a5a"/>
<text x="619.80" y="32.90" font-size="8.4" textLength="24.20" lengthAdjust="spacingAndGlyphs" >Astro.</text>
<rect x="606.8" y="38.95" width="9.1" height="2.3" fill="#cccccc"/>
<text x="619.80" y="42.70" font-size="8.4" textLength="17.40" lengthAdjust="spacingAndGlyphs" >NSC</text>
<rect x="606.8" y="48.75" width="9.1" height="2.3" fill="#ffffff"/>
<text x="619.80" y="52.50" font-size="8.4" textLength="24.20" lengthAdjust="spacingAndGlyphs" >Oligo.</text>
<text x="649.00" y="32.90" font-size="8.4" textLength="33.50" lengthAdjust="spacingAndGlyphs" >(n=301)</text>
<text x="646.50" y="42.70" font-size="8.4" textLength="35.40" lengthAdjust="spacingAndGlyphs" >(n=170)</text>
<text x="647.80" y="52.50" font-size="8.4" textLength="34.70" lengthAdjust="spacingAndGlyphs" >(n=262)</text>
<text x="629.60" y="160.80" font-size="8.6" textLength="50.80" lengthAdjust="spacingAndGlyphs" >Enrichment:</text>
<rect x="631.4" y="168.25" width="8.9" height="2.3" fill="#5a5a5a"/>
<text x="643.20" y="171.60" font-size="8.8" textLength="36.60" lengthAdjust="spacingAndGlyphs" >p&lt;0.001</text>
<rect x="631.4" y="178.55" width="8.9" height="2.3" fill="#cccccc"/>
<text x="643.20" y="181.90" font-size="8.8" textLength="31.20" lengthAdjust="spacingAndGlyphs" >p=0.69</text>
<rect x="631.4" y="188.85" width="8.9" height="2.3" fill="#ffffff"/>
<text x="643.20" y="192.20" font-size="8.8" textLength="31.20" lengthAdjust="spacingAndGlyphs" >p=0.99</text>
<text x="-0.60" y="239.00" font-size="15.5" font-weight="bold" fill="#000" stroke="#000" stroke-width="0.45">c</text>
<circle cx="43.4" cy="237.4" r="2.2" fill="#f28b7d" stroke="#333" stroke-width="0.5"/>
<circle cx="43.4" cy="248.2" r="2.2" fill="#3cc43c" stroke="#333" stroke-width="0.5"/>
<text x="48.10" y="241.10" font-size="8.6" textLength="29.90" lengthAdjust="spacingAndGlyphs" >Control</text>
<text x="48.10" y="251.90" font-size="8.6" textLength="42.80" lengthAdjust="spacingAndGlyphs" >SFRP1-OE</text>
<text x="143.00" y="249.90" font-size="8.6" textLength="90.80" lengthAdjust="spacingAndGlyphs" >v-SVZ Astrocyte VMR</text>
<line x1="95.4" y1="253.5" x2="268.8" y2="253.5" stroke="#333" stroke-width="1"/>
<line x1="34" y1="262.48" x2="312" y2="262.48" stroke="#cfcfcf" stroke-width="0.6" stroke-dasharray="1,1.5"/>
<line x1="34" y1="315.40" x2="312" y2="315.40" stroke="#cfcfcf" stroke-width="0.6" stroke-dasharray="1,1.5"/>
<rect x="41.7" y="326.1" width="260.4" height="10.5" fill="#cddcf6"/>
<text x="121.00" y="334.50" font-size="8.6" textLength="85.80" lengthAdjust="spacingAndGlyphs" >NFIB-near promoter</text>
<path d="M34,259.2 V341.9 H312.6" fill="none" stroke="#222" stroke-width="0.9"/>
<line x1="31.8" y1="262.48" x2="34" y2="262.48" stroke="#222" stroke-width="0.8"/>
<text x="28.20" y="265.58" font-size="8.8" text-anchor="end" textLength="15.00" lengthAdjust="spacingAndGlyphs" >100</text>
<line x1="31.8" y1="275.71" x2="34" y2="275.71" stroke="#222" stroke-width="0.8"/>
<text x="28.20" y="278.81" font-size="8.8" text-anchor="end" textLength="10.00" lengthAdjust="spacingAndGlyphs" >75</text>
<line x1="31.8" y1="288.94" x2="34" y2="288.94" stroke="#222" stroke-width="0.8"/>
<text x="28.20" y="292.04" font-size="8.8" text-anchor="end" textLength="10.00" lengthAdjust="spacingAndGlyphs" >50</text>
<line x1="31.8" y1="302.17" x2="34" y2="302.17" stroke="#222" stroke-width="0.8"/>
<text x="28.20" y="305.27" font-size="8.8" text-anchor="end" textLength="10.00" lengthAdjust="spacingAndGlyphs" >25</text>
<line x1="31.8" y1="315.40" x2="34" y2="315.40" stroke="#222" stroke-width="0.8"/>
<text x="28.20" y="318.50" font-size="8.8" text-anchor="end" textLength="5.00" lengthAdjust="spacingAndGlyphs" >0</text>
<line x1="46.9" y1="341.9" x2="46.9" y2="344.2" stroke="#222" stroke-width="0.8"/>
<line x1="87.2" y1="341.9" x2="87.2" y2="344.2" stroke="#222" stroke-width="0.8"/>
<line x1="127.4" y1="341.9" x2="127.4" y2="344.2" stroke="#222" stroke-width="0.8"/>
<line x1="167.6" y1="341.9" x2="167.6" y2="344.2" stroke="#222" stroke-width="0.8"/>
<line x1="207.9" y1="341.9" x2="207.9" y2="344.2" stroke="#222" stroke-width="0.8"/>
<line x1="248.3" y1="341.9" x2="248.3" y2="344.2" stroke="#222" stroke-width="0.8"/>
<line x1="288.6" y1="341.9" x2="288.6" y2="344.2" stroke="#222" stroke-width="0.8"/>
<text x="33.80" y="353.60" font-size="8.6" textLength="76.20" lengthAdjust="spacingAndGlyphs" >Chr9: 14,344,000</text>
<text x="261.80" y="353.60" font-size="8.6" textLength="48.00" lengthAdjust="spacingAndGlyphs" >14,354,000</text>
<g transform="translate(9.00,290.80) rotate(-90)"><text x="0" y="0" font-size="8.8" text-anchor="middle" textLength="60.50" lengthAdjust="spacingAndGlyphs" >Methylation %</text></g>
<line x1="114.8" y1="262.3" x2="126.5" y2="262.3" stroke="#262626" stroke-width="4.2" stroke-linecap="round"/>
<circle cx="114.55" cy="262.19" r="0.75" fill="#d0705f"/>
<circle cx="116.74" cy="262.33" r="0.75" fill="#d0705f"/>
<circle cx="118.08" cy="262.27" r="0.75" fill="#d0705f"/>
<circle cx="120.07" cy="262.16" r="0.75" fill="#d0705f"/>
<circle cx="121.98" cy="262.15" r="0.75" fill="#d0705f"/>
<circle cx="123.53" cy="262.31" r="0.75" fill="#d0705f"/>
<circle cx="125.32" cy="262.33" r="0.75" fill="#d0705f"/>
<line x1="130.5" y1="262.3" x2="141.0" y2="262.3" stroke="#262626" stroke-width="4.2" stroke-linecap="round"/>
<circle cx="130.64" cy="262.48" r="0.75" fill="#d0705f"/>
<circle cx="132.13" cy="262.36" r="0.75" fill="#d0705f"/>
<circle cx="134.14" cy="262.22" r="0.75" fill="#d0705f"/>
<circle cx="135.48" cy="262.49" r="0.75" fill="#d0705f"/>
<circle cx="137.42" cy="262.23" r="0.75" fill="#d0705f"/>
<circle cx="139.54" cy="262.33" r="0.75" fill="#d0705f"/>
<line x1="143.5" y1="262.3" x2="147.5" y2="262.3" stroke="#262626" stroke-width="4.2" stroke-linecap="round"/>
<circle cx="143.48" cy="262.41" r="0.75" fill="#d0705f"/>
<circle cx="145.14" cy="262.38" r="0.75" fill="#d0705f"/>
<circle cx="147.26" cy="262.14" r="0.75" fill="#d0705f"/>
<line x1="152.0" y1="262.3" x2="158.0" y2="262.3" stroke="#262626" stroke-width="4.2" stroke-linecap="round"/>
<circle cx="152.10" cy="262.47" r="0.75" fill="#d0705f"/>
<circle cx="155.34" cy="262.35" r="0.75" fill="#d0705f"/>
<line x1="160.0" y1="262.3" x2="167.0" y2="262.3" stroke="#262626" stroke-width="4.2" stroke-linecap="round"/>
<circle cx="159.88" cy="262.40" r="0.75" fill="#d0705f"/>
<circle cx="162.21" cy="262.19" r="0.75" fill="#d0705f"/>
<circle cx="164.36" cy="262.36" r="0.75" fill="#d0705f"/>
<circle cx="166.35" cy="262.43" r="0.75" fill="#d0705f"/>
<line x1="170.0" y1="262.3" x2="176.0" y2="262.3" stroke="#262626" stroke-width="4.2" stroke-linecap="round"/>
<circle cx="169.96" cy="262.40" r="0.75" fill="#d0705f"/>
<circle cx="172.47" cy="262.14" r="0.75" fill="#d0705f"/>
<circle cx="174.69" cy="262.26" r="0.75" fill="#d0705f"/>
<line x1="181.0" y1="262.3" x2="189.0" y2="262.3" stroke="#262626" stroke-width="4.2" stroke-linecap="round"/>
<circle cx="180.99" cy="262.16" r="0.75" fill="#d0705f"/>
<circle cx="185.12" cy="262.22" r="0.75" fill="#d0705f"/>
<circle cx="189.22" cy="262.21" r="0.75" fill="#d0705f"/>
<line x1="190.5" y1="262.3" x2="219.0" y2="262.3" stroke="#262626" stroke-width="4.2" stroke-linecap="round"/>
<circle cx="190.54" cy="262.26" r="0.75" fill="#d0705f"/>
<circle cx="192.49" cy="262.18" r="0.75" fill="#d0705f"/>
<circle cx="194.15" cy="262.40" r="0.75" fill="#d0705f"/>
<circle cx="196.41" cy="262.33" r="0.75" fill="#d0705f"/>
<circle cx="198.43" cy="262.18" r="0.75" fill="#d0705f"/>
<circle cx="200.31" cy="262.17" r="0.75" fill="#d0705f"/>
<circle cx="202.30" cy="262.35" r="0.75" fill="#d0705f"/>
<circle cx="204.00" cy="262.49" r="0.75" fill="#d0705f"/>
<circle cx="206.03" cy="262.42" r="0.75" fill="#d0705f"/>
<circle cx="207.51" cy="262.25" r="0.75" fill="#d0705f"/>
<circle cx="209.45" cy="262.18" r="0.75" fill="#d0705f"/>
<circle cx="211.45" cy="262.44" r="0.75" fill="#d0705f"/>
<circle cx="213.32" cy="262.22" r="0.75" fill="#d0705f"/>
<circle cx="215.46" cy="262.44" r="0.75" fill="#d0705f"/>
<circle cx="217.66" cy="262.38" r="0.75" fill="#d0705f"/>
<line x1="224.5" y1="262.3" x2="236.0" y2="262.3" stroke="#262626" stroke-width="4.2" stroke-linecap="round"/>
<circle cx="224.33" cy="262.32" r="0.75" fill="#d0705f"/>
<circle cx="226.54" cy="262.12" r="0.75" fill="#d0705f"/>
<circle cx="228.45" cy="262.25" r="0.75" fill="#d0705f"/>
<circle cx="230.31" cy="262.37" r="0.75" fill="#d0705f"/>
<circle cx="232.28" cy="262.31" r="0.75" fill="#d0705f"/>
<circle cx="234.13" cy="262.18" r="0.75" fill="#d0705f"/>
<line x1="246.0" y1="262.3" x2="258.5" y2="262.3" stroke="#262626" stroke-width="4.2" stroke-linecap="round"/>
<circle cx="246.00" cy="262.15" r="0.75" fill="#d0705f"/>
<circle cx="248.23" cy="262.31" r="0.75" fill="#d0705f"/>
<circle cx="250.64" cy="262.26" r="0.75" fill="#d0705f"/>
<circle cx="252.43" cy="262.31" r="0.75" fill="#d0705f"/>
<circle cx="254.78" cy="262.40" r="0.75" fill="#d0705f"/>
<circle cx="257.13" cy="262.25" r="0.75" fill="#d0705f"/>
<circle cx="67.50" cy="262.30" r="1.8" fill="#f28b7d" stroke="#222" stroke-width="0.55"/>
<circle cx="261.50" cy="262.30" r="1.8" fill="#f28b7d" stroke="#222" stroke-width="0.55"/>
<circle cx="299.50" cy="262.30" r="1.8" fill="#f28b7d" stroke="#222" stroke-width="0.55"/>
<circle cx="109.90" cy="288.94" r="1.8" fill="#f28b7d" stroke="#222" stroke-width="0.55"/>
<circle cx="114.40" cy="288.94" r="1.8" fill="#f28b7d" stroke="#222" stroke-width="0.55"/>
<circle cx="129.10" cy="288.94" r="1.8" fill="#f28b7d" stroke="#222" stroke-width="0.55"/>
<circle cx="145.80" cy="288.94" r="1.8" fill="#f28b7d" stroke="#222" stroke-width="0.55"/>
<circle cx="181.70" cy="288.94" r="1.8" fill="#f28b7d" stroke="#222" stroke-width="0.55"/>
<circle cx="188.10" cy="288.94" r="1.8" fill="#f28b7d" stroke="#222" stroke-width="0.55"/>
<circle cx="198.30" cy="288.94" r="1.8" fill="#f28b7d" stroke="#222" stroke-width="0.55"/>
<circle cx="205.50" cy="288.94" r="1.8" fill="#f28b7d" stroke="#222" stroke-width="0.55"/>
<circle cx="207.30" cy="288.94" r="1.8" fill="#f28b7d" stroke="#222" stroke-width="0.55"/>
<circle cx="209.10" cy="288.94" r="1.8" fill="#f28b7d" stroke="#222" stroke-width="0.55"/>
<circle cx="257.00" cy="288.94" r="1.8" fill="#f28b7d" stroke="#222" stroke-width="0.55"/>
<circle cx="261.50" cy="288.94" r="1.8" fill="#f28b7d" stroke="#222" stroke-width="0.55"/>
<circle cx="266.60" cy="288.94" r="1.8" fill="#f28b7d" stroke="#222" stroke-width="0.55"/>
<circle cx="109.90" cy="302.17" r="1.8" fill="#f28b7d" stroke="#222" stroke-width="0.55"/>
<circle cx="280.90" cy="302.60" r="1.8" fill="#f28b7d" stroke="#222" stroke-width="0.55"/>
<circle cx="284.00" cy="297.70" r="1.8" fill="#f28b7d" stroke="#222" stroke-width="0.55"/>
<circle cx="282.20" cy="275.60" r="1.8" fill="#f28b7d" stroke="#222" stroke-width="0.55"/>
<circle cx="67.80" cy="315.40" r="1.8" fill="#f28b7d" stroke="#222" stroke-width="0.55"/>
<circle cx="99.50" cy="315.40" r="1.8" fill="#f28b7d" stroke="#222" stroke-width="0.55"/>
<circle cx="129.10" cy="315.40" r="1.8" fill="#f28b7d" stroke="#222" stroke-width="0.55"/>
<circle cx="196.40" cy="288.94" r="1.8" fill="#3a2a28" stroke="#222" stroke-width="0.55"/>
<circle cx="278.60" cy="315.40" r="1.8" fill="#7a3a30" stroke="#222" stroke-width="0.55"/>
<circle cx="280.00" cy="315.40" r="1.8" fill="#7a3a30" stroke="#222" stroke-width="0.55"/>
<circle cx="281.50" cy="315.40" r="1.8" fill="#7a3a30" stroke="#222" stroke-width="0.55"/>
<circle cx="283.00" cy="315.40" r="1.8" fill="#7a3a30" stroke="#222" stroke-width="0.55"/>
<path d="M67.5,262.5 L68.4,315.1 L69.9,315.1 L71.7,297.2 L72.9,315.1 L86,315.1 L98.6,306.2 L99.9,315.1 L109.4,314.5 L113.9,308.9 L117.5,301.7 L119.1,290.9 L120.1,276.5 L121.9,268.5 L122.2,266.2 L125.2,263.4 L128.3,263.4 L128.3,268.3 L136,268.3 L136.5,263.4 L141.6,263.4 L142.1,265.2 L145.1,268.3 L149.7,268.3 L150.3,263.4 L168.1,263.4 L168.1,265.2 L172.2,266.2 L173.2,270.3 L176.3,270.3 L177.3,266.2 L181.4,265.2 L182.4,263.5 L183.1,263.7 L184.1,268.3 L186.1,264.7 L187.2,268.3 L188.7,263.2 L190.2,263.4 L197.4,263.4 L198.2,273.4 L203.5,273.4 L204,266.8 L207.1,267.3 L209.6,270.3 L211.2,273.4 L212.7,271.3 L214.2,279.5 L215.3,281.1 L216.3,272.4 L225,272.4 L226.5,276 L228,266.2 L233.1,266.2 L234.2,263.4 L256.2,263.4 L258,264 L263.3,269.4 L266.9,273 L273.2,273 L277.7,275.6 L279.5,280.1 L281.3,290.9 L282.7,301.7 L284,308.8 L300.1,305.6 M86.5,314.5 L98.6,306.4" fill="none" stroke="#2a2a2a" stroke-width="3.0" stroke-linejoin="round"/><path d="M67.5,262.5 L68.4,315.1 L69.9,315.1 L71.7,297.2 L72.9,315.1 L86,315.1 L98.6,306.2 L99.9,315.1 L109.4,314.5 L113.9,308.9 L117.5,301.7 L119.1,290.9 L120.1,276.5 L121.9,268.5 L122.2,266.2 L125.2,263.4 L128.3,263.4 L128.3,268.3 L136,268.3 L136.5,263.4 L141.6,263.4 L142.1,265.2 L145.1,268.3 L149.7,268.3 L150.3,263.4 L168.1,263.4 L168.1,265.2 L172.2,266.2 L173.2,270.3 L176.3,270.3 L177.3,266.2 L181.4,265.2 L182.4,263.5 L183.1,263.7 L184.1,268.3 L186.1,264.7 L187.2,268.3 L188.7,263.2 L190.2,263.4 L197.4,263.4 L198.2,273.4 L203.5,273.4 L204,266.8 L207.1,267.3 L209.6,270.3 L211.2,273.4 L212.7,271.3 L214.2,279.5 L215.3,281.1 L216.3,272.4 L225,272.4 L226.5,276 L228,266.2 L233.1,266.2 L234.2,263.4 L256.2,263.4 L258,264 L263.3,269.4 L266.9,273 L273.2,273 L277.7,275.6 L279.5,280.1 L281.3,290.9 L282.7,301.7 L284,308.8 L300.1,305.6 M86.5,314.5 L98.6,306.4" fill="none" stroke="#f08577" stroke-width="1.8" stroke-linejoin="round"/>
<path d="M68,315.4 L123.7,315.4 L126.7,312 L128.2,299 L139,299 L141.7,294.9 L146.3,294.9 L147.5,310.7 L161.5,310.7 L162.4,315.4 L272.3,315.4 L273.2,311 L284,311 L284.9,315.4" fill="none" stroke="#1a1a1a" stroke-width="3.0" stroke-linejoin="round"/><path d="M68,315.4 L123.7,315.4 L126.7,312 L128.2,299 L139,299 L141.7,294.9 L146.3,294.9 L147.5,310.7 L161.5,310.7 L162.4,315.4 L272.3,315.4 L273.2,311 L284,311 L284.9,315.4" fill="none" stroke="#3cc43c" stroke-width="1.8" stroke-linejoin="round"/>
<circle cx="129.30" cy="262.30" r="1.8" fill="#3cc43c" stroke="#222" stroke-width="0.3"/>
<circle cx="142.40" cy="262.30" r="1.8" fill="#3cc43c" stroke="#222" stroke-width="0.3"/>
<circle cx="273.20" cy="262.30" r="1.8" fill="#3cc43c" stroke="#222" stroke-width="0.3"/>
<circle cx="68.80" cy="315.40" r="1.8" fill="#3cc43c" stroke="#222" stroke-width="0.4"/>
<circle cx="70.30" cy="315.40" r="1.8" fill="#3cc43c" stroke="#222" stroke-width="0.4"/>
<circle cx="71.80" cy="315.40" r="1.8" fill="#3cc43c" stroke="#222" stroke-width="0.4"/>
<circle cx="73.20" cy="315.40" r="1.8" fill="#3cc43c" stroke="#222" stroke-width="0.4"/>
<circle cx="122.60" cy="315.40" r="1.8" fill="#3cc43c" stroke="#222" stroke-width="0.4"/>
<circle cx="124.00" cy="315.40" r="1.8" fill="#3cc43c" stroke="#222" stroke-width="0.4"/>
<circle cx="139.50" cy="315.40" r="1.8" fill="#3cc43c" stroke="#222" stroke-width="0.4"/>
<circle cx="141.00" cy="315.40" r="1.8" fill="#3cc43c" stroke="#222" stroke-width="0.4"/>
<circle cx="146.00" cy="315.40" r="1.8" fill="#3cc43c" stroke="#222" stroke-width="0.4"/>
<circle cx="147.30" cy="315.40" r="1.8" fill="#3cc43c" stroke="#222" stroke-width="0.4"/>
<circle cx="162.40" cy="315.40" r="1.8" fill="#3cc43c" stroke="#222" stroke-width="0.4"/>
<circle cx="164.00" cy="315.40" r="1.8" fill="#3cc43c" stroke="#222" stroke-width="0.4"/>
<circle cx="168.00" cy="315.40" r="1.8" fill="#3cc43c" stroke="#222" stroke-width="0.4"/>
<circle cx="176.00" cy="315.40" r="1.8" fill="#3cc43c" stroke="#222" stroke-width="0.4"/>
<circle cx="186.50" cy="315.40" r="1.8" fill="#3cc43c" stroke="#222" stroke-width="0.4"/>
<circle cx="188.50" cy="315.40" r="1.8" fill="#3cc43c" stroke="#222" stroke-width="0.4"/>
<circle cx="208.00" cy="315.40" r="1.8" fill="#3cc43c" stroke="#222" stroke-width="0.4"/>
<circle cx="209.50" cy="315.40" r="1.8" fill="#3cc43c" stroke="#222" stroke-width="0.4"/>
<circle cx="227.50" cy="315.40" r="1.8" fill="#3cc43c" stroke="#222" stroke-width="0.4"/>
<circle cx="266.60" cy="315.40" r="1.8" fill="#3cc43c" stroke="#222" stroke-width="0.4"/>
<circle cx="272.80" cy="315.40" r="1.8" fill="#3cc43c" stroke="#222" stroke-width="0.4"/>
<circle cx="284.20" cy="315.40" r="1.8" fill="#3cc43c" stroke="#222" stroke-width="0.4"/>
<text x="315.30" y="239.00" font-size="15" font-weight="bold" fill="#000" stroke="#000" stroke-width="0.45">d</text>
<circle cx="370.8" cy="236.6" r="2.2" fill="#f28b7d" stroke="#333" stroke-width="0.5"/>
<circle cx="370.8" cy="247.4" r="2.2" fill="#3cc43c" stroke="#333" stroke-width="0.5"/>
<text x="375.80" y="240.10" font-size="8.6" textLength="30.70" lengthAdjust="spacingAndGlyphs" >Control</text>
<text x="375.80" y="250.80" font-size="8.6" textLength="42.80" lengthAdjust="spacingAndGlyphs" >SFRP1-OE</text>
<path d="M357.5,246.4 V341.9 H385.1" fill="none" stroke="#222" stroke-width="0.9"/>
<path d="M434.4,246.4 V341.9 H404.5" fill="none" stroke="#222" stroke-width="0.9"/>
<line x1="355.4" y1="327.90" x2="357.5" y2="327.90" stroke="#222" stroke-width="0.8"/>
<line x1="434.4" y1="327.90" x2="436.5" y2="327.90" stroke="#222" stroke-width="0.8"/>
<text x="354.00" y="331.00" font-size="8.8" text-anchor="end" textLength="13.60" lengthAdjust="spacingAndGlyphs" >0.1</text>
<text x="438.30" y="331.00" font-size="8.8" textLength="13.60" lengthAdjust="spacingAndGlyphs" >0.1</text>
<line x1="355.4" y1="314.00" x2="357.5" y2="314.00" stroke="#222" stroke-width="0.8"/>
<line x1="434.4" y1="314.00" x2="436.5" y2="314.00" stroke="#222" stroke-width="0.8"/>
<text x="354.00" y="317.10" font-size="8.8" text-anchor="end" textLength="13.60" lengthAdjust="spacingAndGlyphs" >0.2</text>
<text x="438.30" y="317.10" font-size="8.8" textLength="13.60" lengthAdjust="spacingAndGlyphs" >0.2</text>
<line x1="355.4" y1="300.10" x2="357.5" y2="300.10" stroke="#222" stroke-width="0.8"/>
<line x1="434.4" y1="300.10" x2="436.5" y2="300.10" stroke="#222" stroke-width="0.8"/>
<text x="354.00" y="303.20" font-size="8.8" text-anchor="end" textLength="13.60" lengthAdjust="spacingAndGlyphs" >0.3</text>
<text x="438.30" y="303.20" font-size="8.8" textLength="13.60" lengthAdjust="spacingAndGlyphs" >0.3</text>
<line x1="355.4" y1="286.20" x2="357.5" y2="286.20" stroke="#222" stroke-width="0.8"/>
<line x1="434.4" y1="286.20" x2="436.5" y2="286.20" stroke="#222" stroke-width="0.8"/>
<text x="354.00" y="289.30" font-size="8.8" text-anchor="end" textLength="13.60" lengthAdjust="spacingAndGlyphs" >0.4</text>
<text x="438.30" y="289.30" font-size="8.8" textLength="13.60" lengthAdjust="spacingAndGlyphs" >0.4</text>
<line x1="355.4" y1="272.30" x2="357.5" y2="272.30" stroke="#222" stroke-width="0.8"/>
<line x1="434.4" y1="272.30" x2="436.5" y2="272.30" stroke="#222" stroke-width="0.8"/>
<text x="354.00" y="275.40" font-size="8.8" text-anchor="end" textLength="13.60" lengthAdjust="spacingAndGlyphs" >0.5</text>
<text x="438.30" y="275.40" font-size="8.8" textLength="13.60" lengthAdjust="spacingAndGlyphs" >0.5</text>
<line x1="355.4" y1="258.40" x2="357.5" y2="258.40" stroke="#222" stroke-width="0.8"/>
<line x1="434.4" y1="258.40" x2="436.5" y2="258.40" stroke="#222" stroke-width="0.8"/>
<text x="354.00" y="261.50" font-size="8.8" text-anchor="end" textLength="13.60" lengthAdjust="spacingAndGlyphs" >0.6</text>
<text x="438.30" y="261.50" font-size="8.8" textLength="13.60" lengthAdjust="spacingAndGlyphs" >0.6</text>
<g transform="translate(333.80,296.40) rotate(-90)"><text x="0" y="0" font-size="8.8" text-anchor="middle" textLength="95.00" lengthAdjust="spacingAndGlyphs" >Proportion NFIB+ cells</text></g>
<g transform="translate(464.80,297.20) rotate(-90)"><text x="0" y="0" font-size="8.8" text-anchor="middle" textLength="95.50" lengthAdjust="spacingAndGlyphs" >Proportion GFAP+ cells</text></g>
<text x="355.10" y="353.60" font-size="9.0" textLength="36.00" lengthAdjust="spacingAndGlyphs" >p&lt;0.001</text>
<text x="401.00" y="353.60" font-size="9.0" textLength="34.60" lengthAdjust="spacingAndGlyphs" >p&lt;0.001</text>
<circle cx="366.60" cy="303.80" r="2.15" fill="#3cc43c" stroke="#222" stroke-width="0.6"/>
<circle cx="370.20" cy="301.40" r="2.15" fill="#3cc43c" stroke="#222" stroke-width="0.6"/>
<circle cx="369.70" cy="307.20" r="2.15" fill="#3cc43c" stroke="#222" stroke-width="0.6"/>
<circle cx="416.60" cy="265.30" r="2.15" fill="#3cc43c" stroke="#222" stroke-width="0.6"/>
<circle cx="411.80" cy="275.60" r="2.15" fill="#3cc43c" stroke="#222" stroke-width="0.6"/>
<circle cx="418.20" cy="279.50" r="2.15" fill="#3cc43c" stroke="#222" stroke-width="0.6"/>
<circle cx="370.20" cy="321.90" r="2.15" fill="#f28b7d" stroke="#222" stroke-width="0.6"/>
<circle cx="374.30" cy="321.20" r="2.15" fill="#f28b7d" stroke="#222" stroke-width="0.6"/>
<circle cx="371.90" cy="323.10" r="2.15" fill="#f28b7d" stroke="#222" stroke-width="0.6"/>
<circle cx="379.50" cy="325.70" r="2.15" fill="#f28b7d" stroke="#222" stroke-width="0.6"/>
<circle cx="424.00" cy="324.50" r="2.15" fill="#f28b7d" stroke="#222" stroke-width="0.6"/>
<circle cx="423.30" cy="327.90" r="2.15" fill="#f28b7d" stroke="#222" stroke-width="0.6"/>
<circle cx="420.20" cy="329.50" r="2.15" fill="#f28b7d" stroke="#222" stroke-width="0.6"/>
<circle cx="419.90" cy="332.00" r="2.15" fill="#f28b7d" stroke="#222" stroke-width="0.6"/>
<text x="475.40" y="238.90" font-size="15.3" font-weight="bold" fill="#000" stroke="#000" stroke-width="0.45">e</text>
<text x="498.00" y="235.10" font-size="8.5" textLength="76.40" lengthAdjust="spacingAndGlyphs" >NSC-like GBM cells:</text>
<rect x="497.3" y="238.6" width="185.2" height="44.4" rx="2.5" fill="#e8f0fd" stroke="#9a9a9a" stroke-width="0.8"/>
<path d="M497.7,252.2 H511.5 C516.5,252.2 518.5,256 521.5,265 C524.5,274.5 527,279.4 533,279.7 L682.1,280.2 V280.5 C682.1,281.8 681,282.6 680,282.6 H500 C498.6,282.6 497.7,281.6 497.7,280.4 Z" fill="#b4b4b4"/>
<circle cx="534.8" cy="271" r="8.6" fill="url(#gBall1)" stroke="#222" stroke-width="0.8"/>
<line x1="539.6" y1="264.5" x2="548.3" y2="256.3" stroke="#222" stroke-width="0.7"/>
<text x="549.70" y="256.00" font-size="8.5" textLength="103.10" lengthAdjust="spacingAndGlyphs" >Current transcriptome state</text>
<g transform="translate(494.80,260.30) rotate(-90)"><text x="0" y="0" font-size="8.6" text-anchor="middle" textLength="30.00" lengthAdjust="spacingAndGlyphs" >Control</text></g>
<text x="497.70" y="294.60" font-size="8.5" textLength="96.00" lengthAdjust="spacingAndGlyphs" >Astrocyte-like GBM cells:</text>
<rect x="497.9" y="298.3" width="184.4" height="46.3" rx="2.5" fill="#e8f0fd" stroke="#9a9a9a" stroke-width="0.8"/>
<path d="M498.3,311.6 H505.5 C508.5,311.6 509.5,315 510.5,322 C511.5,332 514,339.8 523,339.9 C532,340 534,333 535,322 C535.6,315.5 536.5,312.4 541,312.4 H679.5 C681,312.4 681.9,313.3 681.9,314.8 V342 C681.9,343.3 681,344.2 679.6,344.2 H500.4 C499.1,344.2 498.3,343.3 498.3,342 Z" fill="#b4b4b4"/>
<circle cx="523.2" cy="330.7" r="8.4" fill="url(#gBall2)" stroke="#222" stroke-width="0.8"/>
<text x="558.20" y="326.00" font-size="8.5" textLength="60.40" lengthAdjust="spacingAndGlyphs" >Fate constraints</text>
<text x="558.20" y="334.60" font-size="8.5" textLength="101.50" lengthAdjust="spacingAndGlyphs" >imposed by the methylome</text>
<g transform="translate(495.00,321.20) rotate(-90)"><text x="0" y="0" font-size="8.6" text-anchor="middle" textLength="42.50" lengthAdjust="spacingAndGlyphs" >SFRP1-OE</text></g>
<line x1="501.5" y1="349" x2="677" y2="349" stroke="#222" stroke-width="0.9"/><path d="M681.6,349 L676.5,346.6 L676.5,351.4 Z" fill="#111"/>
<text x="508.30" y="359.90" font-size="8.5" textLength="166.70" lengthAdjust="spacingAndGlyphs" >Llineage progression in transcriptome space</text>
</svg></body></html>
